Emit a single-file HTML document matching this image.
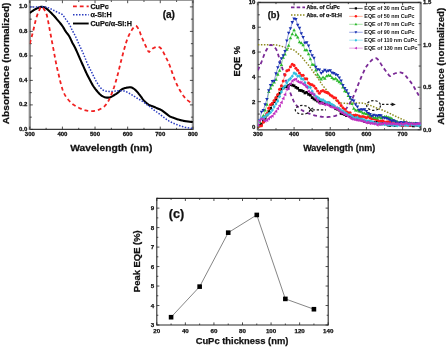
<!DOCTYPE html>
<html><head><meta charset="utf-8"><style>
html,body{margin:0;padding:0;background:#fff;width:446px;height:347px;overflow:hidden}
svg{display:block;filter:blur(0.4px)}
text{font-family:"Liberation Sans",sans-serif}
text.k{stroke:#111;stroke-width:0.25px}
</style></head><body>
<svg width="446" height="347" viewBox="0 0 446 347" font-family="Liberation Sans, sans-serif">
<defs>
<clipPath id="clipA"><rect x="29.8" y="0.4" width="163.10" height="129.00"/></clipPath>
<clipPath id="clipB"><rect x="257.9" y="2.5" width="162.80" height="127.30"/></clipPath>
</defs>
<rect width="446" height="347" fill="#fff"/>
<line x1="29.8" y1="0.4" x2="192.9" y2="0.4" stroke="#999" stroke-width="1.3"/>
<line x1="29.8" y1="129.4" x2="192.9" y2="129.4" stroke="#3a3a3a" stroke-width="1.3"/>
<line x1="29.8" y1="-0.25" x2="29.8" y2="130.05" stroke="#8c8c8c" stroke-width="2.3"/>
<line x1="192.9" y1="-0.25" x2="192.9" y2="130.05" stroke="#8c8c8c" stroke-width="2.3"/>
<line x1="29.80" y1="129.4" x2="29.80" y2="126.60" stroke="#222" stroke-width="0.8"/>
<line x1="29.80" y1="0.4" x2="29.80" y2="3.20" stroke="#222" stroke-width="0.8"/>
<line x1="62.42" y1="129.4" x2="62.42" y2="126.60" stroke="#222" stroke-width="0.8"/>
<line x1="62.42" y1="0.4" x2="62.42" y2="3.20" stroke="#222" stroke-width="0.8"/>
<line x1="95.04" y1="129.4" x2="95.04" y2="126.60" stroke="#222" stroke-width="0.8"/>
<line x1="95.04" y1="0.4" x2="95.04" y2="3.20" stroke="#222" stroke-width="0.8"/>
<line x1="127.66" y1="129.4" x2="127.66" y2="126.60" stroke="#222" stroke-width="0.8"/>
<line x1="127.66" y1="0.4" x2="127.66" y2="3.20" stroke="#222" stroke-width="0.8"/>
<line x1="160.28" y1="129.4" x2="160.28" y2="126.60" stroke="#222" stroke-width="0.8"/>
<line x1="160.28" y1="0.4" x2="160.28" y2="3.20" stroke="#222" stroke-width="0.8"/>
<line x1="192.90" y1="129.4" x2="192.90" y2="126.60" stroke="#222" stroke-width="0.8"/>
<line x1="192.90" y1="0.4" x2="192.90" y2="3.20" stroke="#222" stroke-width="0.8"/>
<line x1="46.11" y1="129.4" x2="46.11" y2="127.80" stroke="#222" stroke-width="0.8"/>
<line x1="46.11" y1="0.4" x2="46.11" y2="2.00" stroke="#222" stroke-width="0.8"/>
<line x1="78.73" y1="129.4" x2="78.73" y2="127.80" stroke="#222" stroke-width="0.8"/>
<line x1="78.73" y1="0.4" x2="78.73" y2="2.00" stroke="#222" stroke-width="0.8"/>
<line x1="111.35" y1="129.4" x2="111.35" y2="127.80" stroke="#222" stroke-width="0.8"/>
<line x1="111.35" y1="0.4" x2="111.35" y2="2.00" stroke="#222" stroke-width="0.8"/>
<line x1="143.97" y1="129.4" x2="143.97" y2="127.80" stroke="#222" stroke-width="0.8"/>
<line x1="143.97" y1="0.4" x2="143.97" y2="2.00" stroke="#222" stroke-width="0.8"/>
<line x1="176.59" y1="129.4" x2="176.59" y2="127.80" stroke="#222" stroke-width="0.8"/>
<line x1="176.59" y1="0.4" x2="176.59" y2="2.00" stroke="#222" stroke-width="0.8"/>
<line x1="29.8" y1="129.40" x2="32.80" y2="129.40" stroke="#222" stroke-width="0.8"/>
<line x1="192.9" y1="129.40" x2="189.90" y2="129.40" stroke="#222" stroke-width="0.8"/>
<line x1="29.8" y1="104.90" x2="32.80" y2="104.90" stroke="#222" stroke-width="0.8"/>
<line x1="192.9" y1="104.90" x2="189.90" y2="104.90" stroke="#222" stroke-width="0.8"/>
<line x1="29.8" y1="80.40" x2="32.80" y2="80.40" stroke="#222" stroke-width="0.8"/>
<line x1="192.9" y1="80.40" x2="189.90" y2="80.40" stroke="#222" stroke-width="0.8"/>
<line x1="29.8" y1="55.90" x2="32.80" y2="55.90" stroke="#222" stroke-width="0.8"/>
<line x1="192.9" y1="55.90" x2="189.90" y2="55.90" stroke="#222" stroke-width="0.8"/>
<line x1="29.8" y1="31.40" x2="32.80" y2="31.40" stroke="#222" stroke-width="0.8"/>
<line x1="192.9" y1="31.40" x2="189.90" y2="31.40" stroke="#222" stroke-width="0.8"/>
<line x1="29.8" y1="6.90" x2="32.80" y2="6.90" stroke="#222" stroke-width="0.8"/>
<line x1="192.9" y1="6.90" x2="189.90" y2="6.90" stroke="#222" stroke-width="0.8"/>
<line x1="29.8" y1="117.15" x2="31.80" y2="117.15" stroke="#222" stroke-width="0.8"/>
<line x1="192.9" y1="117.15" x2="190.90" y2="117.15" stroke="#222" stroke-width="0.8"/>
<line x1="29.8" y1="92.65" x2="31.80" y2="92.65" stroke="#222" stroke-width="0.8"/>
<line x1="192.9" y1="92.65" x2="190.90" y2="92.65" stroke="#222" stroke-width="0.8"/>
<line x1="29.8" y1="68.15" x2="31.80" y2="68.15" stroke="#222" stroke-width="0.8"/>
<line x1="192.9" y1="68.15" x2="190.90" y2="68.15" stroke="#222" stroke-width="0.8"/>
<line x1="29.8" y1="43.65" x2="31.80" y2="43.65" stroke="#222" stroke-width="0.8"/>
<line x1="192.9" y1="43.65" x2="190.90" y2="43.65" stroke="#222" stroke-width="0.8"/>
<line x1="29.8" y1="19.15" x2="31.80" y2="19.15" stroke="#222" stroke-width="0.8"/>
<line x1="192.9" y1="19.15" x2="190.90" y2="19.15" stroke="#222" stroke-width="0.8"/>
<text x="0" y="0" font-size="5.56" font-weight="bold" text-anchor="middle" fill="#111" transform="translate(29.80 136.30) scale(1.080 1)" class="k">300</text>
<text x="0" y="0" font-size="5.56" font-weight="bold" text-anchor="middle" fill="#111" transform="translate(62.42 136.30) scale(1.080 1)" class="k">400</text>
<text x="0" y="0" font-size="5.56" font-weight="bold" text-anchor="middle" fill="#111" transform="translate(95.04 136.30) scale(1.080 1)" class="k">500</text>
<text x="0" y="0" font-size="5.56" font-weight="bold" text-anchor="middle" fill="#111" transform="translate(127.66 136.30) scale(1.080 1)" class="k">600</text>
<text x="0" y="0" font-size="5.56" font-weight="bold" text-anchor="middle" fill="#111" transform="translate(160.28 136.30) scale(1.080 1)" class="k">700</text>
<text x="0" y="0" font-size="5.56" font-weight="bold" text-anchor="middle" fill="#111" transform="translate(192.90 136.30) scale(1.080 1)" class="k">800</text>
<text x="0" y="0" font-size="5.56" font-weight="bold" text-anchor="end" fill="#111" transform="translate(27.30 131.00) scale(1.080 1)" class="k">0.0</text>
<text x="0" y="0" font-size="5.56" font-weight="bold" text-anchor="end" fill="#111" transform="translate(27.30 106.48) scale(1.080 1)" class="k">0.2</text>
<text x="0" y="0" font-size="5.56" font-weight="bold" text-anchor="end" fill="#111" transform="translate(27.30 81.96) scale(1.080 1)" class="k">0.4</text>
<text x="0" y="0" font-size="5.56" font-weight="bold" text-anchor="end" fill="#111" transform="translate(27.30 57.44) scale(1.080 1)" class="k">0.6</text>
<text x="0" y="0" font-size="5.56" font-weight="bold" text-anchor="end" fill="#111" transform="translate(27.30 32.92) scale(1.080 1)" class="k">0.8</text>
<text x="0" y="0" font-size="5.56" font-weight="bold" text-anchor="end" fill="#111" transform="translate(27.30 8.40) scale(1.080 1)" class="k">1.0</text>
<text x="0" y="0" font-size="9.41" font-weight="bold" text-anchor="middle" fill="#111" transform="translate(111.30 151.00) scale(1.090 1)" class="k">Wavelength (nm)</text>
<text x="0" y="0" font-size="9.67" font-weight="bold" text-anchor="middle" fill="#111" transform="translate(8.60 63.40) scale(1 1.050) rotate(-90)" class="k">Absorbance (normalized)</text>
<text x="168.80" y="17.90" font-size="10.1" font-weight="bold" text-anchor="middle" fill="#111" class="k">(a)</text>
<g clip-path="url(#clipA)">
<path d="M29.80,13.03 L30.45,12.53 L31.10,12.02 L31.76,11.51 L32.41,11.03 L33.06,10.58 L33.71,10.16 L34.37,9.77 L35.02,9.40 L35.67,9.06 L36.32,8.74 L36.98,8.42 L37.63,8.09 L38.28,7.77 L38.93,7.47 L39.59,7.21 L40.24,7.02 L40.89,6.90 L41.54,6.86 L42.20,6.88 L42.85,6.97 L43.50,7.12 L44.15,7.33 L44.81,7.60 L45.46,7.93 L46.11,8.36 L46.76,8.85 L47.41,9.40 L48.07,9.98 L48.72,10.59 L49.37,11.19 L50.02,11.79 L50.68,12.42 L51.33,13.07 L51.98,13.74 L52.63,14.43 L53.29,15.12 L53.94,15.83 L54.59,16.56 L55.24,17.30 L55.90,18.06 L56.55,18.82 L57.20,19.60 L57.85,20.38 L58.51,21.15 L59.16,21.91 L59.81,22.68 L60.46,23.47 L61.12,24.27 L61.77,25.12 L62.42,26.01 L63.07,27.00 L63.72,28.10 L64.38,29.24 L65.03,30.36 L65.68,31.40 L66.33,32.32 L66.99,33.16 L67.64,33.97 L68.29,34.82 L68.94,35.77 L69.60,36.88 L70.25,38.19 L70.90,39.62 L71.55,41.06 L72.21,42.43 L72.86,43.67 L73.51,44.86 L74.16,46.04 L74.82,47.26 L75.47,48.55 L76.12,49.94 L76.77,51.40 L77.43,52.90 L78.08,54.41 L78.73,55.90 L79.38,57.37 L80.03,58.85 L80.69,60.32 L81.34,61.80 L81.99,63.26 L82.64,64.71 L83.30,66.17 L83.95,67.63 L84.60,69.08 L85.25,70.52 L85.91,71.94 L86.56,73.34 L87.21,74.71 L87.86,76.03 L88.52,77.31 L89.17,78.56 L89.82,79.79 L90.47,81.01 L91.13,82.23 L91.78,83.43 L92.43,84.61 L93.08,85.72 L93.74,86.77 L94.39,87.73 L95.04,88.62 L95.69,89.46 L96.34,90.26 L97.00,91.04 L97.65,91.81 L98.30,92.57 L98.95,93.29 L99.61,93.97 L100.26,94.58 L100.91,95.11 L101.56,95.57 L102.22,95.98 L102.87,96.34 L103.52,96.65 L104.17,96.94 L104.83,97.18 L105.48,97.38 L106.13,97.53 L106.78,97.63 L107.44,97.67 L108.09,97.66 L108.74,97.59 L109.39,97.47 L110.05,97.29 L110.70,97.06 L111.35,96.77 L112.00,96.44 L112.65,96.07 L113.31,95.67 L113.96,95.26 L114.61,94.86 L115.26,94.45 L115.92,94.03 L116.57,93.59 L117.22,93.14 L117.87,92.65 L118.53,92.11 L119.18,91.51 L119.83,90.91 L120.48,90.32 L121.14,89.81 L121.79,89.39 L122.44,89.05 L123.09,88.77 L123.75,88.53 L124.40,88.32 L125.05,88.12 L125.70,87.93 L126.36,87.76 L127.01,87.62 L127.66,87.51 L128.31,87.42 L128.96,87.35 L129.62,87.31 L130.27,87.31 L130.92,87.37 L131.57,87.50 L132.23,87.75 L132.88,88.08 L133.53,88.50 L134.18,88.97 L134.84,89.51 L135.49,90.10 L136.14,90.74 L136.79,91.43 L137.45,92.17 L138.10,92.95 L138.75,93.78 L139.40,94.62 L140.06,95.48 L140.71,96.33 L141.36,97.20 L142.01,98.11 L142.67,99.02 L143.32,99.87 L143.97,100.61 L144.62,101.28 L145.27,101.91 L145.93,102.51 L146.58,103.09 L147.23,103.62 L147.88,104.11 L148.54,104.57 L149.19,104.97 L149.84,105.31 L150.49,105.59 L151.15,105.83 L151.80,106.05 L152.45,106.26 L153.10,106.48 L153.76,106.74 L154.41,107.02 L155.06,107.30 L155.71,107.59 L156.37,107.89 L157.02,108.18 L157.67,108.47 L158.32,108.75 L158.98,109.02 L159.63,109.30 L160.28,109.58 L160.93,109.89 L161.58,110.23 L162.24,110.61 L162.89,111.06 L163.54,111.57 L164.19,112.09 L164.85,112.61 L165.50,113.11 L166.15,113.63 L166.80,114.16 L167.46,114.68 L168.11,115.19 L168.76,115.67 L169.41,116.10 L170.07,116.47 L170.72,116.79 L171.37,117.08 L172.02,117.34 L172.68,117.58 L173.33,117.81 L173.98,118.03 L174.63,118.26 L175.29,118.49 L175.94,118.73 L176.59,118.96 L177.24,119.18 L177.89,119.40 L178.55,119.60 L179.20,119.79 L179.85,119.97 L180.50,120.13 L181.16,120.29 L181.81,120.44 L182.46,120.58 L183.11,120.72 L183.77,120.85 L184.42,120.98 L185.07,121.10 L185.72,121.21 L186.38,121.31 L187.03,121.41 L187.68,121.50 L188.33,121.58 L188.99,121.65 L189.64,121.72 L190.29,121.79 L190.94,121.85 L191.60,121.91 L192.25,121.98 L192.90,122.05" fill="none" stroke="#000" stroke-width="2.1"/>
<path d="M29.80,6.90 L30.45,6.90 L31.10,6.90 L31.76,6.90 L32.41,6.90 L33.06,6.90 L33.71,6.90 L34.37,6.90 L35.02,6.90 L35.67,6.90 L36.32,6.90 L36.98,6.90 L37.63,6.90 L38.28,6.90 L38.93,6.90 L39.59,6.90 L40.24,6.89 L40.89,6.87 L41.54,6.84 L42.20,6.82 L42.85,6.80 L43.50,6.80 L44.15,6.82 L44.81,6.86 L45.46,6.95 L46.11,7.07 L46.76,7.23 L47.41,7.41 L48.07,7.63 L48.72,7.87 L49.37,8.12 L50.02,8.41 L50.68,8.74 L51.33,9.08 L51.98,9.45 L52.63,9.81 L53.29,10.16 L53.94,10.49 L54.59,10.82 L55.24,11.14 L55.90,11.46 L56.55,11.78 L57.20,12.10 L57.85,12.41 L58.51,12.70 L59.16,12.94 L59.81,13.18 L60.46,13.43 L61.12,13.74 L61.77,14.12 L62.42,14.62 L63.07,15.30 L63.72,16.18 L64.38,17.17 L65.03,18.19 L65.68,19.15 L66.33,20.03 L66.99,20.89 L67.64,21.75 L68.29,22.65 L68.94,23.64 L69.60,24.75 L70.25,26.04 L70.90,27.43 L71.55,28.84 L72.21,30.17 L72.86,31.41 L73.51,32.60 L74.16,33.79 L74.82,35.00 L75.47,36.30 L76.12,37.70 L76.77,39.16 L77.43,40.67 L78.08,42.18 L78.73,43.65 L79.38,45.07 L80.03,46.47 L80.69,47.86 L81.34,49.28 L81.99,50.72 L82.64,52.17 L83.30,53.63 L83.95,55.13 L84.60,56.69 L85.25,58.33 L85.91,60.01 L86.56,61.67 L87.21,63.25 L87.86,64.69 L88.52,66.04 L89.17,67.32 L89.82,68.57 L90.47,69.80 L91.13,71.06 L91.78,72.36 L92.43,73.70 L93.08,75.07 L93.74,76.43 L94.39,77.77 L95.04,79.07 L95.69,80.31 L96.34,81.46 L97.00,82.56 L97.65,83.62 L98.30,84.63 L98.95,85.59 L99.61,86.49 L100.26,87.34 L100.91,88.13 L101.56,88.80 L102.22,89.36 L102.87,89.83 L103.52,90.25 L104.17,90.62 L104.83,90.87 L105.48,91.03 L106.13,91.14 L106.78,91.22 L107.44,91.29 L108.09,91.35 L108.74,91.39 L109.39,91.42 L110.05,91.44 L110.70,91.44 L111.35,91.43 L112.00,91.39 L112.65,91.34 L113.31,91.27 L113.96,91.20 L114.61,91.12 L115.26,91.03 L115.92,90.96 L116.57,90.89 L117.22,90.84 L117.87,90.81 L118.53,90.79 L119.18,90.77 L119.83,90.74 L120.48,90.73 L121.14,90.72 L121.79,90.74 L122.44,90.77 L123.09,90.83 L123.75,90.93 L124.40,91.06 L125.05,91.24 L125.70,91.48 L126.36,91.77 L127.01,92.09 L127.66,92.44 L128.31,92.80 L128.96,93.16 L129.62,93.51 L130.27,93.86 L130.92,94.25 L131.57,94.65 L132.23,95.06 L132.88,95.47 L133.53,95.88 L134.18,96.30 L134.84,96.73 L135.49,97.16 L136.14,97.59 L136.79,98.00 L137.45,98.41 L138.10,98.79 L138.75,99.16 L139.40,99.52 L140.06,99.88 L140.71,100.24 L141.36,100.62 L142.01,101.02 L142.67,101.44 L143.32,101.88 L143.97,102.35 L144.62,102.82 L145.27,103.30 L145.93,103.79 L146.58,104.29 L147.23,104.78 L147.88,105.27 L148.54,105.77 L149.19,106.27 L149.84,106.77 L150.49,107.28 L151.15,107.79 L151.80,108.29 L152.45,108.80 L153.10,109.30 L153.76,109.80 L154.41,110.29 L155.06,110.79 L155.71,111.28 L156.37,111.77 L157.02,112.26 L157.67,112.75 L158.32,113.23 L158.98,113.72 L159.63,114.21 L160.28,114.70 L160.93,115.19 L161.58,115.69 L162.24,116.19 L162.89,116.69 L163.54,117.18 L164.19,117.66 L164.85,118.14 L165.50,118.61 L166.15,119.08 L166.80,119.55 L167.46,120.01 L168.11,120.45 L168.76,120.87 L169.41,121.26 L170.07,121.61 L170.72,121.95 L171.37,122.27 L172.02,122.58 L172.68,122.88 L173.33,123.17 L173.98,123.45 L174.63,123.72 L175.29,123.99 L175.94,124.25 L176.59,124.50 L177.24,124.75 L177.89,125.00 L178.55,125.24 L179.20,125.48 L179.85,125.71 L180.50,125.94 L181.16,126.16 L181.81,126.37 L182.46,126.57 L183.11,126.76 L183.77,126.95 L184.42,127.11 L185.07,127.27 L185.72,127.41 L186.38,127.53 L187.03,127.64 L187.68,127.74 L188.33,127.84 L188.99,127.92 L189.64,128.00 L190.29,128.08 L190.94,128.16 L191.60,128.24 L192.25,128.33 L192.90,128.42" fill="none" stroke="#2a3cc0" stroke-width="1.5" stroke-dasharray="1.5 1.5"/>
<path d="M29.80,43.65 L30.45,41.22 L31.10,38.81 L31.76,36.39 L32.41,33.93 L33.06,31.40 L33.71,28.70 L34.37,25.86 L35.02,23.02 L35.67,20.33 L36.32,17.92 L36.98,15.84 L37.63,13.98 L38.28,12.30 L38.93,10.77 L39.59,9.35 L40.24,8.08 L40.89,7.19 L41.54,6.90 L42.20,7.16 L42.85,7.74 L43.50,8.53 L44.15,9.47 L44.81,10.45 L45.46,11.45 L46.11,12.81 L46.76,14.86 L47.41,17.66 L48.07,20.89 L48.72,24.37 L49.37,27.93 L50.02,31.40 L50.68,34.77 L51.33,38.17 L51.98,41.58 L52.63,45.00 L53.29,48.43 L53.94,51.88 L54.59,55.43 L55.24,58.98 L55.90,62.38 L56.55,65.52 L57.20,68.46 L57.85,71.26 L58.51,74.00 L59.16,76.73 L59.81,79.48 L60.46,82.19 L61.12,84.74 L61.77,87.04 L62.42,89.18 L63.07,91.08 L63.72,92.65 L64.38,93.94 L65.03,95.11 L65.68,96.16 L66.33,97.13 L66.99,98.04 L67.64,98.90 L68.29,99.72 L68.94,100.49 L69.60,101.21 L70.25,101.88 L70.90,102.51 L71.55,103.11 L72.21,103.68 L72.86,104.20 L73.51,104.68 L74.16,105.12 L74.82,105.54 L75.47,105.93 L76.12,106.31 L76.77,106.68 L77.43,107.04 L78.08,107.39 L78.73,107.73 L79.38,108.05 L80.03,108.36 L80.69,108.65 L81.34,108.93 L81.99,109.19 L82.64,109.43 L83.30,109.67 L83.95,109.89 L84.60,110.09 L85.25,110.28 L85.91,110.44 L86.56,110.59 L87.21,110.72 L87.86,110.83 L88.52,110.93 L89.17,111.01 L89.82,111.08 L90.47,111.12 L91.13,111.15 L91.78,111.15 L92.43,111.14 L93.08,111.09 L93.74,111.01 L94.39,110.91 L95.04,110.79 L95.69,110.65 L96.34,110.49 L97.00,110.33 L97.65,110.13 L98.30,109.90 L98.95,109.64 L99.61,109.35 L100.26,109.03 L100.91,108.71 L101.56,108.38 L102.22,108.01 L102.87,107.60 L103.52,107.13 L104.17,106.57 L104.83,105.94 L105.48,105.23 L106.13,104.43 L106.78,103.54 L107.44,102.56 L108.09,101.50 L108.74,100.34 L109.39,99.10 L110.05,97.76 L110.70,96.32 L111.35,94.67 L112.00,92.91 L112.65,91.09 L113.31,89.32 L113.96,87.53 L114.61,85.55 L115.26,83.36 L115.92,81.13 L116.57,78.83 L117.22,76.47 L117.87,74.03 L118.53,71.46 L119.18,68.75 L119.83,66.01 L120.48,63.32 L121.14,60.75 L121.79,58.23 L122.44,55.75 L123.09,53.30 L123.75,50.90 L124.40,48.55 L125.05,46.23 L125.70,43.96 L126.36,41.84 L127.01,39.98 L127.66,38.29 L128.31,36.69 L128.96,35.18 L129.62,33.78 L130.27,32.52 L130.92,31.40 L131.57,30.37 L132.23,29.38 L132.88,28.46 L133.53,27.63 L134.18,26.94 L134.84,26.42 L135.49,26.09 L136.14,26.03 L136.79,26.46 L137.45,27.28 L138.10,28.37 L138.75,29.57 L139.40,30.85 L140.06,32.54 L140.71,34.42 L141.36,36.18 L142.01,37.74 L142.67,39.25 L143.32,40.73 L143.97,42.20 L144.62,43.65 L145.27,45.09 L145.93,46.49 L146.58,47.81 L147.23,49.21 L147.88,50.60 L148.54,51.67 L149.19,51.99 L149.84,51.25 L150.49,50.39 L151.15,49.84 L151.80,49.29 L152.45,48.77 L153.10,48.31 L153.76,47.94 L154.41,47.62 L155.06,47.31 L155.71,47.04 L156.37,46.83 L157.02,46.70 L157.67,46.68 L158.32,46.78 L158.98,46.99 L159.63,47.33 L160.28,47.80 L160.93,48.41 L161.58,49.16 L162.24,50.12 L162.89,51.27 L163.54,52.55 L164.19,53.90 L164.85,55.24 L165.50,56.54 L166.15,57.81 L166.80,59.09 L167.46,60.40 L168.11,61.77 L168.76,63.22 L169.41,64.79 L170.07,66.53 L170.72,68.38 L171.37,70.28 L172.02,72.15 L172.68,73.95 L173.33,75.76 L173.98,77.58 L174.63,79.33 L175.29,80.98 L175.94,82.49 L176.59,83.91 L177.24,85.28 L177.89,86.59 L178.55,87.85 L179.20,89.05 L179.85,90.20 L180.50,91.32 L181.16,92.40 L181.81,93.45 L182.46,94.45 L183.11,95.41 L183.77,96.31 L184.42,97.15 L185.07,97.93 L185.72,98.62 L186.38,99.25 L187.03,99.83 L187.68,100.36 L188.33,100.86 L188.99,101.35 L189.64,101.84 L190.29,102.28 L190.94,102.66 L191.60,103.00 L192.25,103.33 L192.90,103.68" fill="none" stroke="#f02020" stroke-width="1.8" stroke-dasharray="3.8 3.0"/>
</g>
<line x1="73" y1="6.3" x2="88.7" y2="6.3" stroke="#f02020" stroke-width="1.8" stroke-dasharray="3.8 3.0"/>
<line x1="73" y1="14.8" x2="88.7" y2="14.8" stroke="#2a3cc0" stroke-width="1.5" stroke-dasharray="1.5 1.5"/>
<line x1="73" y1="23.5" x2="88.7" y2="23.5" stroke="#000" stroke-width="1.9"/>
<text x="90.40" y="8.50" font-size="7.2" font-weight="bold" text-anchor="start" fill="#111" class="k">CuPc</text>
<text x="90.40" y="17.20" font-size="7.2" font-weight="bold" text-anchor="start" fill="#111" class="k">&#945;-Si:H</text>
<text x="90.40" y="26.00" font-size="7.2" font-weight="bold" text-anchor="start" fill="#111" class="k">CuPc/&#945;-Si:H</text>
<line x1="257.9" y1="2.5" x2="420.7" y2="2.5" stroke="#3a3a3a" stroke-width="1.3"/>
<line x1="257.9" y1="129.8" x2="420.7" y2="129.8" stroke="#3a3a3a" stroke-width="1.3"/>
<line x1="257.9" y1="1.85" x2="257.9" y2="130.45000000000002" stroke="#8c8c8c" stroke-width="2.3"/>
<line x1="420.7" y1="1.85" x2="420.7" y2="130.45000000000002" stroke="#8c8c8c" stroke-width="2.3"/>
<line x1="257.90" y1="129.8" x2="257.90" y2="127.00" stroke="#222" stroke-width="0.8"/>
<line x1="257.90" y1="2.5" x2="257.90" y2="5.30" stroke="#222" stroke-width="0.8"/>
<line x1="294.08" y1="129.8" x2="294.08" y2="127.00" stroke="#222" stroke-width="0.8"/>
<line x1="294.08" y1="2.5" x2="294.08" y2="5.30" stroke="#222" stroke-width="0.8"/>
<line x1="330.26" y1="129.8" x2="330.26" y2="127.00" stroke="#222" stroke-width="0.8"/>
<line x1="330.26" y1="2.5" x2="330.26" y2="5.30" stroke="#222" stroke-width="0.8"/>
<line x1="366.43" y1="129.8" x2="366.43" y2="127.00" stroke="#222" stroke-width="0.8"/>
<line x1="366.43" y1="2.5" x2="366.43" y2="5.30" stroke="#222" stroke-width="0.8"/>
<line x1="402.61" y1="129.8" x2="402.61" y2="127.00" stroke="#222" stroke-width="0.8"/>
<line x1="402.61" y1="2.5" x2="402.61" y2="5.30" stroke="#222" stroke-width="0.8"/>
<line x1="275.99" y1="129.8" x2="275.99" y2="128.20" stroke="#222" stroke-width="0.8"/>
<line x1="275.99" y1="2.5" x2="275.99" y2="4.10" stroke="#222" stroke-width="0.8"/>
<line x1="312.17" y1="129.8" x2="312.17" y2="128.20" stroke="#222" stroke-width="0.8"/>
<line x1="312.17" y1="2.5" x2="312.17" y2="4.10" stroke="#222" stroke-width="0.8"/>
<line x1="348.34" y1="129.8" x2="348.34" y2="128.20" stroke="#222" stroke-width="0.8"/>
<line x1="348.34" y1="2.5" x2="348.34" y2="4.10" stroke="#222" stroke-width="0.8"/>
<line x1="384.52" y1="129.8" x2="384.52" y2="128.20" stroke="#222" stroke-width="0.8"/>
<line x1="384.52" y1="2.5" x2="384.52" y2="4.10" stroke="#222" stroke-width="0.8"/>
<line x1="420.70" y1="129.8" x2="420.70" y2="128.20" stroke="#222" stroke-width="0.8"/>
<line x1="420.70" y1="2.5" x2="420.70" y2="4.10" stroke="#222" stroke-width="0.8"/>
<line x1="257.9" y1="126.50" x2="260.90" y2="126.50" stroke="#222" stroke-width="0.8"/>
<line x1="257.9" y1="101.68" x2="260.90" y2="101.68" stroke="#222" stroke-width="0.8"/>
<line x1="257.9" y1="76.86" x2="260.90" y2="76.86" stroke="#222" stroke-width="0.8"/>
<line x1="257.9" y1="52.04" x2="260.90" y2="52.04" stroke="#222" stroke-width="0.8"/>
<line x1="257.9" y1="27.22" x2="260.90" y2="27.22" stroke="#222" stroke-width="0.8"/>
<line x1="257.9" y1="2.40" x2="260.90" y2="2.40" stroke="#222" stroke-width="0.8"/>
<line x1="257.9" y1="114.09" x2="259.90" y2="114.09" stroke="#222" stroke-width="0.8"/>
<line x1="257.9" y1="89.27" x2="259.90" y2="89.27" stroke="#222" stroke-width="0.8"/>
<line x1="257.9" y1="64.45" x2="259.90" y2="64.45" stroke="#222" stroke-width="0.8"/>
<line x1="257.9" y1="39.63" x2="259.90" y2="39.63" stroke="#222" stroke-width="0.8"/>
<line x1="257.9" y1="14.81" x2="259.90" y2="14.81" stroke="#222" stroke-width="0.8"/>
<line x1="420.7" y1="129.70" x2="417.70" y2="129.70" stroke="#222" stroke-width="0.8"/>
<line x1="420.7" y1="87.26" x2="417.70" y2="87.26" stroke="#222" stroke-width="0.8"/>
<line x1="420.7" y1="44.83" x2="417.70" y2="44.83" stroke="#222" stroke-width="0.8"/>
<line x1="420.7" y1="2.39" x2="417.70" y2="2.39" stroke="#222" stroke-width="0.8"/>
<line x1="420.7" y1="108.48" x2="418.70" y2="108.48" stroke="#222" stroke-width="0.8"/>
<line x1="420.7" y1="66.05" x2="418.70" y2="66.05" stroke="#222" stroke-width="0.8"/>
<line x1="420.7" y1="23.61" x2="418.70" y2="23.61" stroke="#222" stroke-width="0.8"/>
<text x="0" y="0" font-size="5.56" font-weight="bold" text-anchor="middle" fill="#111" transform="translate(257.90 136.30) scale(1.080 1)" class="k">300</text>
<text x="0" y="0" font-size="5.56" font-weight="bold" text-anchor="middle" fill="#111" transform="translate(294.08 136.30) scale(1.080 1)" class="k">400</text>
<text x="0" y="0" font-size="5.56" font-weight="bold" text-anchor="middle" fill="#111" transform="translate(330.26 136.30) scale(1.080 1)" class="k">500</text>
<text x="0" y="0" font-size="5.56" font-weight="bold" text-anchor="middle" fill="#111" transform="translate(366.43 136.30) scale(1.080 1)" class="k">600</text>
<text x="0" y="0" font-size="5.56" font-weight="bold" text-anchor="middle" fill="#111" transform="translate(402.61 136.30) scale(1.080 1)" class="k">700</text>
<text x="0" y="0" font-size="5.56" font-weight="bold" text-anchor="end" fill="#111" transform="translate(255.40 128.50) scale(1.080 1)" class="k">0</text>
<text x="0" y="0" font-size="5.56" font-weight="bold" text-anchor="end" fill="#111" transform="translate(255.40 103.68) scale(1.080 1)" class="k">2</text>
<text x="0" y="0" font-size="5.56" font-weight="bold" text-anchor="end" fill="#111" transform="translate(255.40 78.86) scale(1.080 1)" class="k">4</text>
<text x="0" y="0" font-size="5.56" font-weight="bold" text-anchor="end" fill="#111" transform="translate(255.40 54.04) scale(1.080 1)" class="k">6</text>
<text x="0" y="0" font-size="5.56" font-weight="bold" text-anchor="end" fill="#111" transform="translate(255.40 29.22) scale(1.080 1)" class="k">8</text>
<text x="0" y="0" font-size="5.56" font-weight="bold" text-anchor="end" fill="#111" transform="translate(255.40 4.40) scale(1.080 1)" class="k">10</text>
<text x="0" y="0" font-size="5.56" font-weight="bold" text-anchor="start" fill="#111" transform="translate(423.00 131.70) scale(1.080 1)" class="k">0.0</text>
<text x="0" y="0" font-size="5.56" font-weight="bold" text-anchor="start" fill="#111" transform="translate(423.00 89.26) scale(1.080 1)" class="k">0.5</text>
<text x="0" y="0" font-size="5.56" font-weight="bold" text-anchor="start" fill="#111" transform="translate(423.00 46.83) scale(1.080 1)" class="k">1.0</text>
<text x="0" y="0" font-size="5.56" font-weight="bold" text-anchor="start" fill="#111" transform="translate(423.00 4.39) scale(1.080 1)" class="k">1.5</text>
<text x="0" y="0" font-size="8.74" font-weight="bold" text-anchor="middle" fill="#111" transform="translate(339.20 150.90) scale(1.030 1)" class="k">Wavelength (nm)</text>
<text x="240.10" y="61.20" font-size="9.3" font-weight="bold" text-anchor="middle" fill="#111" transform="rotate(-90 240.10 61.20)" class="k">EQE %</text>
<text x="0" y="0" font-size="9.29" font-weight="bold" text-anchor="middle" fill="#111" transform="translate(443.60 66.20) scale(1 1.050) rotate(-90)" class="k">Absorbance (normalized)</text>
<text x="273.60" y="17.60" font-size="9.2" font-weight="bold" text-anchor="middle" fill="#111" class="k">(b)</text>
<g clip-path="url(#clipB)">
<path d="M257.90,44.83 L258.62,44.83 L259.35,44.83 L260.07,44.83 L260.79,44.83 L261.52,44.83 L262.24,44.83 L262.96,44.83 L263.69,44.83 L264.41,44.83 L265.14,44.83 L265.86,44.83 L266.58,44.83 L267.31,44.83 L268.03,44.83 L268.75,44.83 L269.48,44.82 L270.20,44.81 L270.92,44.79 L271.65,44.77 L272.37,44.76 L273.09,44.76 L273.82,44.77 L274.54,44.80 L275.27,44.86 L275.99,44.95 L276.71,45.06 L277.44,45.19 L278.16,45.34 L278.88,45.50 L279.61,45.68 L280.33,45.88 L281.05,46.10 L281.78,46.34 L282.50,46.59 L283.22,46.85 L283.95,47.09 L284.67,47.32 L285.40,47.55 L286.12,47.77 L286.84,47.99 L287.57,48.21 L288.29,48.43 L289.01,48.65 L289.74,48.85 L290.46,49.02 L291.18,49.18 L291.91,49.36 L292.63,49.57 L293.35,49.83 L294.08,50.18 L294.80,50.65 L295.52,51.26 L296.25,51.94 L296.97,52.65 L297.70,53.32 L298.42,53.93 L299.14,54.52 L299.87,55.12 L300.59,55.74 L301.31,56.43 L302.04,57.20 L302.76,58.09 L303.48,59.05 L304.21,60.03 L304.93,60.96 L305.65,61.81 L306.38,62.64 L307.10,63.46 L307.83,64.30 L308.55,65.20 L309.27,66.17 L310.00,67.18 L310.72,68.23 L311.44,69.27 L312.17,70.29 L312.89,71.28 L313.61,72.24 L314.34,73.21 L315.06,74.20 L315.78,75.19 L316.51,76.19 L317.23,77.21 L317.96,78.25 L318.68,79.32 L319.40,80.46 L320.13,81.63 L320.85,82.78 L321.57,83.87 L322.30,84.87 L323.02,85.80 L323.74,86.69 L324.47,87.55 L325.19,88.41 L325.91,89.28 L326.64,90.18 L327.36,91.11 L328.08,92.06 L328.81,93.00 L329.53,93.93 L330.26,94.83 L330.98,95.69 L331.70,96.48 L332.43,97.25 L333.15,97.98 L333.87,98.68 L334.60,99.34 L335.32,99.97 L336.04,100.56 L336.77,101.11 L337.49,101.57 L338.21,101.96 L338.94,102.29 L339.66,102.58 L340.39,102.83 L341.11,103.01 L341.83,103.12 L342.56,103.19 L343.28,103.25 L344.00,103.30 L344.73,103.34 L345.45,103.37 L346.17,103.39 L346.90,103.40 L347.62,103.40 L348.34,103.39 L349.07,103.37 L349.79,103.33 L350.52,103.29 L351.24,103.23 L351.96,103.18 L352.69,103.12 L353.41,103.07 L354.13,103.02 L354.86,102.99 L355.58,102.97 L356.30,102.95 L357.03,102.93 L357.75,102.92 L358.47,102.91 L359.20,102.91 L359.92,102.91 L360.64,102.94 L361.37,102.98 L362.09,103.05 L362.82,103.14 L363.54,103.26 L364.26,103.43 L364.99,103.63 L365.71,103.85 L366.43,104.09 L367.16,104.34 L367.88,104.59 L368.60,104.83 L369.33,105.08 L370.05,105.34 L370.77,105.62 L371.50,105.91 L372.22,106.19 L372.95,106.48 L373.67,106.77 L374.39,107.07 L375.12,107.36 L375.84,107.66 L376.56,107.95 L377.29,108.23 L378.01,108.50 L378.73,108.75 L379.46,109.00 L380.18,109.25 L380.90,109.50 L381.63,109.76 L382.35,110.04 L383.08,110.33 L383.80,110.64 L384.52,110.96 L385.25,111.28 L385.97,111.62 L386.69,111.96 L387.42,112.30 L388.14,112.64 L388.86,112.98 L389.59,113.33 L390.31,113.68 L391.03,114.02 L391.76,114.38 L392.48,114.73 L393.20,115.08 L393.93,115.43 L394.65,115.78 L395.38,116.12 L396.10,116.46 L396.82,116.81 L397.55,117.15 L398.27,117.48 L398.99,117.82 L399.72,118.16 L400.44,118.50 L401.16,118.84 L401.89,119.18 L402.61,119.52 L403.33,119.86 L404.06,120.20 L404.78,120.55 L405.51,120.89 L406.23,121.23 L406.95,121.57 L407.68,121.90 L408.40,122.22 L409.12,122.55 L409.85,122.87 L410.57,123.19 L411.29,123.50 L412.02,123.79 L412.74,124.06 L413.46,124.30 L414.19,124.54 L414.91,124.76 L415.64,124.98 L416.36,125.18 L417.08,125.38 L417.81,125.58 L418.53,125.77 L419.25,125.95 L419.98,126.13 L420.70,126.31" fill="none" stroke="#8c8a1e" stroke-width="1.5" stroke-dasharray="1.5 1.5"/>
<path d="M257.90,70.29 L258.62,68.61 L259.35,66.94 L260.07,65.26 L260.79,63.56 L261.52,61.80 L262.24,59.94 L262.96,57.97 L263.69,56.00 L264.41,54.13 L265.14,52.47 L265.86,51.03 L266.58,49.74 L267.31,48.57 L268.03,47.51 L268.75,46.53 L269.48,45.65 L270.20,45.03 L270.92,44.83 L271.65,45.01 L272.37,45.41 L273.09,45.96 L273.82,46.61 L274.54,47.29 L275.27,47.98 L275.99,48.92 L276.71,50.35 L277.44,52.28 L278.16,54.52 L278.88,56.93 L279.61,59.40 L280.33,61.80 L281.05,64.14 L281.78,66.49 L282.50,68.85 L283.22,71.23 L283.95,73.60 L284.67,75.99 L285.40,78.45 L286.12,80.91 L286.84,83.27 L287.57,85.44 L288.29,87.48 L289.01,89.42 L289.74,91.32 L290.46,93.21 L291.18,95.12 L291.91,96.99 L292.63,98.76 L293.35,100.35 L294.08,101.83 L294.80,103.15 L295.52,104.24 L296.25,105.14 L296.97,105.94 L297.70,106.67 L298.42,107.34 L299.14,107.97 L299.87,108.57 L300.59,109.14 L301.31,109.67 L302.04,110.17 L302.76,110.63 L303.48,111.07 L304.21,111.49 L304.93,111.88 L305.65,112.24 L306.38,112.57 L307.10,112.88 L307.83,113.17 L308.55,113.44 L309.27,113.70 L310.00,113.96 L310.72,114.21 L311.44,114.45 L312.17,114.69 L312.89,114.91 L313.61,115.12 L314.34,115.32 L315.06,115.52 L315.78,115.70 L316.51,115.87 L317.23,116.03 L317.96,116.18 L318.68,116.32 L319.40,116.45 L320.13,116.57 L320.85,116.67 L321.57,116.76 L322.30,116.84 L323.02,116.90 L323.74,116.96 L324.47,117.00 L325.19,117.04 L325.91,117.05 L326.64,117.06 L327.36,117.05 L328.08,117.01 L328.81,116.96 L329.53,116.89 L330.26,116.80 L330.98,116.71 L331.70,116.60 L332.43,116.49 L333.15,116.35 L333.87,116.19 L334.60,116.01 L335.32,115.81 L336.04,115.59 L336.77,115.36 L337.49,115.13 L338.21,114.88 L338.94,114.60 L339.66,114.27 L340.39,113.88 L341.11,113.45 L341.83,112.95 L342.56,112.40 L343.28,111.78 L344.00,111.11 L344.73,110.37 L345.45,109.57 L346.17,108.71 L346.90,107.78 L347.62,106.78 L348.34,105.64 L349.07,104.42 L349.79,103.16 L350.52,101.93 L351.24,100.69 L351.96,99.32 L352.69,97.81 L353.41,96.26 L354.13,94.66 L354.86,93.03 L355.58,91.34 L356.30,89.56 L357.03,87.68 L357.75,85.78 L358.47,83.92 L359.20,82.14 L359.92,80.39 L360.64,78.67 L361.37,76.98 L362.09,75.31 L362.82,73.69 L363.54,72.08 L364.26,70.51 L364.99,69.04 L365.71,67.74 L366.43,66.58 L367.16,65.47 L367.88,64.42 L368.60,63.45 L369.33,62.58 L370.05,61.80 L370.77,61.09 L371.50,60.40 L372.22,59.76 L372.95,59.19 L373.67,58.72 L374.39,58.35 L375.12,58.12 L375.84,58.09 L376.56,58.38 L377.29,58.95 L378.01,59.70 L378.73,60.54 L379.46,61.42 L380.18,62.59 L380.90,63.90 L381.63,65.11 L382.35,66.19 L383.08,67.24 L383.80,68.27 L384.52,69.28 L385.25,70.29 L385.97,71.29 L386.69,72.26 L387.42,73.18 L388.14,74.14 L388.86,75.11 L389.59,75.85 L390.31,76.07 L391.03,75.55 L391.76,74.96 L392.48,74.58 L393.20,74.20 L393.93,73.84 L394.65,73.52 L395.38,73.26 L396.10,73.04 L396.82,72.83 L397.55,72.64 L398.27,72.49 L398.99,72.41 L399.72,72.39 L400.44,72.46 L401.16,72.61 L401.89,72.84 L402.61,73.16 L403.33,73.59 L404.06,74.11 L404.78,74.77 L405.51,75.57 L406.23,76.46 L406.95,77.39 L407.68,78.32 L408.40,79.22 L409.12,80.10 L409.85,80.99 L410.57,81.90 L411.29,82.84 L412.02,83.85 L412.74,84.94 L413.46,86.14 L414.19,87.43 L414.91,88.74 L415.64,90.03 L416.36,91.28 L417.08,92.54 L417.81,93.80 L418.53,95.01 L419.25,96.15 L419.98,97.20 L420.70,98.19" fill="none" stroke="#7a2a96" stroke-width="1.8" stroke-dasharray="3.8 3.0"/>
<path d="M257.90,126.50 L259.71,125.32 L261.52,124.11 L263.33,121.31 L265.14,118.26 L266.94,114.98 L268.75,111.53 L270.56,108.34 L272.37,104.12 L274.18,101.57 L275.99,99.25 L277.80,95.87 L279.61,93.37 L281.42,89.12 L283.22,88.01 L285.03,86.74 L286.84,86.85 L288.65,85.58 L290.46,84.55 L292.27,85.13 L294.08,85.81 L295.89,87.34 L297.70,88.28 L299.50,90.33 L301.31,90.54 L303.12,91.30 L304.93,92.97 L306.74,92.38 L308.55,94.38 L310.36,95.16 L312.17,97.62 L313.98,98.95 L315.78,99.93 L317.59,101.10 L319.40,101.74 L321.21,102.57 L323.02,103.26 L324.83,103.69 L326.64,103.59 L328.45,102.94 L330.26,104.89 L332.06,105.29 L333.87,106.38 L335.68,108.71 L337.49,109.20 L339.30,110.06 L341.11,113.31 L342.92,113.77 L344.73,114.64 L346.54,115.66 L348.34,115.59 L350.15,116.48 L351.96,117.76 L353.77,117.29 L355.58,117.95 L357.39,118.39 L359.20,118.73 L361.01,119.77 L362.82,120.43 L364.62,121.55 L366.43,121.20 L368.24,122.10 L370.05,121.98 L371.86,122.36 L373.67,122.48 L375.48,122.58 L377.29,122.14 L379.10,123.81 L380.90,123.88 L382.71,123.50 L384.52,123.30 L386.33,123.91 L388.14,125.10 L389.95,125.50 L391.76,124.50 L393.57,125.04 L395.38,125.28 L397.18,124.55 L398.99,124.58 L400.80,125.00 L402.61,125.02 L404.42,124.99 L406.23,124.58 L408.04,124.99 L409.85,125.06 L411.66,125.09 L413.46,125.93 L415.27,124.87 L417.08,125.04 L418.89,125.25 L420.70,126.26" fill="none" stroke="#444444" stroke-width="0.7"/>
<rect x="256.54" y="125.14" width="2.72" height="2.72" fill="#000000"/><rect x="258.35" y="123.96" width="2.72" height="2.72" fill="#000000"/><rect x="260.16" y="122.75" width="2.72" height="2.72" fill="#000000"/><rect x="261.97" y="119.95" width="2.72" height="2.72" fill="#000000"/><rect x="263.78" y="116.90" width="2.72" height="2.72" fill="#000000"/><rect x="265.58" y="113.62" width="2.72" height="2.72" fill="#000000"/><rect x="267.39" y="110.17" width="2.72" height="2.72" fill="#000000"/><rect x="269.20" y="106.98" width="2.72" height="2.72" fill="#000000"/><rect x="271.01" y="102.76" width="2.72" height="2.72" fill="#000000"/><rect x="272.82" y="100.21" width="2.72" height="2.72" fill="#000000"/><rect x="274.63" y="97.89" width="2.72" height="2.72" fill="#000000"/><rect x="276.44" y="94.51" width="2.72" height="2.72" fill="#000000"/><rect x="278.25" y="92.01" width="2.72" height="2.72" fill="#000000"/><rect x="280.06" y="87.76" width="2.72" height="2.72" fill="#000000"/><rect x="281.86" y="86.65" width="2.72" height="2.72" fill="#000000"/><rect x="283.67" y="85.38" width="2.72" height="2.72" fill="#000000"/><rect x="285.48" y="85.49" width="2.72" height="2.72" fill="#000000"/><rect x="287.29" y="84.22" width="2.72" height="2.72" fill="#000000"/><rect x="289.10" y="83.19" width="2.72" height="2.72" fill="#000000"/><rect x="290.91" y="83.77" width="2.72" height="2.72" fill="#000000"/><rect x="292.72" y="84.45" width="2.72" height="2.72" fill="#000000"/><rect x="294.53" y="85.98" width="2.72" height="2.72" fill="#000000"/><rect x="296.34" y="86.92" width="2.72" height="2.72" fill="#000000"/><rect x="298.14" y="88.97" width="2.72" height="2.72" fill="#000000"/><rect x="299.95" y="89.18" width="2.72" height="2.72" fill="#000000"/><rect x="301.76" y="89.94" width="2.72" height="2.72" fill="#000000"/><rect x="303.57" y="91.61" width="2.72" height="2.72" fill="#000000"/><rect x="305.38" y="91.02" width="2.72" height="2.72" fill="#000000"/><rect x="307.19" y="93.02" width="2.72" height="2.72" fill="#000000"/><rect x="309.00" y="93.80" width="2.72" height="2.72" fill="#000000"/><rect x="310.81" y="96.26" width="2.72" height="2.72" fill="#000000"/><rect x="312.62" y="97.59" width="2.72" height="2.72" fill="#000000"/><rect x="314.42" y="98.57" width="2.72" height="2.72" fill="#000000"/><rect x="316.23" y="99.74" width="2.72" height="2.72" fill="#000000"/><rect x="318.04" y="100.38" width="2.72" height="2.72" fill="#000000"/><rect x="319.85" y="101.21" width="2.72" height="2.72" fill="#000000"/><rect x="321.66" y="101.90" width="2.72" height="2.72" fill="#000000"/><rect x="323.47" y="102.33" width="2.72" height="2.72" fill="#000000"/><rect x="325.28" y="102.23" width="2.72" height="2.72" fill="#000000"/><rect x="327.09" y="101.58" width="2.72" height="2.72" fill="#000000"/><rect x="328.90" y="103.53" width="2.72" height="2.72" fill="#000000"/><rect x="330.70" y="103.93" width="2.72" height="2.72" fill="#000000"/><rect x="332.51" y="105.02" width="2.72" height="2.72" fill="#000000"/><rect x="334.32" y="107.35" width="2.72" height="2.72" fill="#000000"/><rect x="336.13" y="107.84" width="2.72" height="2.72" fill="#000000"/><rect x="337.94" y="108.70" width="2.72" height="2.72" fill="#000000"/><rect x="339.75" y="111.95" width="2.72" height="2.72" fill="#000000"/><rect x="341.56" y="112.41" width="2.72" height="2.72" fill="#000000"/><rect x="343.37" y="113.28" width="2.72" height="2.72" fill="#000000"/><rect x="345.18" y="114.30" width="2.72" height="2.72" fill="#000000"/><rect x="346.98" y="114.23" width="2.72" height="2.72" fill="#000000"/><rect x="348.79" y="115.12" width="2.72" height="2.72" fill="#000000"/><rect x="350.60" y="116.40" width="2.72" height="2.72" fill="#000000"/><rect x="352.41" y="115.93" width="2.72" height="2.72" fill="#000000"/><rect x="354.22" y="116.59" width="2.72" height="2.72" fill="#000000"/><rect x="356.03" y="117.03" width="2.72" height="2.72" fill="#000000"/><rect x="357.84" y="117.37" width="2.72" height="2.72" fill="#000000"/><rect x="359.65" y="118.41" width="2.72" height="2.72" fill="#000000"/><rect x="361.46" y="119.07" width="2.72" height="2.72" fill="#000000"/><rect x="363.26" y="120.19" width="2.72" height="2.72" fill="#000000"/><rect x="365.07" y="119.84" width="2.72" height="2.72" fill="#000000"/><rect x="366.88" y="120.74" width="2.72" height="2.72" fill="#000000"/><rect x="368.69" y="120.62" width="2.72" height="2.72" fill="#000000"/><rect x="370.50" y="121.00" width="2.72" height="2.72" fill="#000000"/><rect x="372.31" y="121.12" width="2.72" height="2.72" fill="#000000"/><rect x="374.12" y="121.22" width="2.72" height="2.72" fill="#000000"/><rect x="375.93" y="120.78" width="2.72" height="2.72" fill="#000000"/><rect x="377.74" y="122.45" width="2.72" height="2.72" fill="#000000"/><rect x="379.54" y="122.52" width="2.72" height="2.72" fill="#000000"/><rect x="381.35" y="122.14" width="2.72" height="2.72" fill="#000000"/><rect x="383.16" y="121.94" width="2.72" height="2.72" fill="#000000"/><rect x="384.97" y="122.55" width="2.72" height="2.72" fill="#000000"/><rect x="386.78" y="123.74" width="2.72" height="2.72" fill="#000000"/><rect x="388.59" y="124.14" width="2.72" height="2.72" fill="#000000"/><rect x="390.40" y="123.14" width="2.72" height="2.72" fill="#000000"/><rect x="392.21" y="123.68" width="2.72" height="2.72" fill="#000000"/><rect x="394.02" y="123.92" width="2.72" height="2.72" fill="#000000"/><rect x="395.82" y="123.19" width="2.72" height="2.72" fill="#000000"/><rect x="397.63" y="123.22" width="2.72" height="2.72" fill="#000000"/><rect x="399.44" y="123.64" width="2.72" height="2.72" fill="#000000"/><rect x="401.25" y="123.66" width="2.72" height="2.72" fill="#000000"/><rect x="403.06" y="123.63" width="2.72" height="2.72" fill="#000000"/><rect x="404.87" y="123.22" width="2.72" height="2.72" fill="#000000"/><rect x="406.68" y="123.63" width="2.72" height="2.72" fill="#000000"/><rect x="408.49" y="123.70" width="2.72" height="2.72" fill="#000000"/><rect x="410.30" y="123.73" width="2.72" height="2.72" fill="#000000"/><rect x="412.10" y="124.57" width="2.72" height="2.72" fill="#000000"/><rect x="413.91" y="123.51" width="2.72" height="2.72" fill="#000000"/><rect x="415.72" y="123.68" width="2.72" height="2.72" fill="#000000"/><rect x="417.53" y="123.89" width="2.72" height="2.72" fill="#000000"/><rect x="419.34" y="124.90" width="2.72" height="2.72" fill="#000000"/>
<path d="M257.90,126.50 L259.71,125.90 L261.52,125.75 L263.33,122.29 L265.14,116.47 L266.94,113.49 L268.75,108.14 L270.56,104.83 L272.37,103.15 L274.18,100.54 L275.99,97.52 L277.80,94.52 L279.61,89.17 L281.42,85.65 L283.22,81.04 L285.03,74.73 L286.84,70.75 L288.65,69.94 L290.46,66.70 L292.27,64.27 L294.08,65.39 L295.89,68.31 L297.70,70.28 L299.50,73.09 L301.31,75.36 L303.12,75.28 L304.93,78.86 L306.74,78.84 L308.55,82.97 L310.36,84.37 L312.17,84.74 L313.98,85.93 L315.78,88.24 L317.59,91.05 L319.40,93.16 L321.21,91.17 L323.02,90.45 L324.83,91.69 L326.64,92.38 L328.45,93.26 L330.26,94.99 L332.06,95.93 L333.87,97.55 L335.68,98.10 L337.49,100.78 L339.30,103.09 L341.11,105.45 L342.92,107.71 L344.73,109.30 L346.54,111.82 L348.34,112.70 L350.15,112.73 L351.96,115.44 L353.77,115.25 L355.58,115.13 L357.39,115.54 L359.20,116.04 L361.01,116.74 L362.82,116.58 L364.62,117.09 L366.43,117.79 L368.24,116.76 L370.05,118.00 L371.86,118.69 L373.67,118.82 L375.48,119.32 L377.29,119.81 L379.10,121.55 L380.90,121.09 L382.71,120.83 L384.52,122.10 L386.33,121.98 L388.14,121.88 L389.95,122.25 L391.76,122.29 L393.57,123.87 L395.38,123.59 L397.18,123.82 L398.99,123.65 L400.80,123.66 L402.61,125.30 L404.42,123.94 L406.23,125.04 L408.04,124.29 L409.85,125.22 L411.66,124.63 L413.46,124.28 L415.27,124.86 L417.08,124.79 L418.89,124.62 L420.70,124.96" fill="none" stroke="#ff7a60" stroke-width="0.7"/>
<circle cx="257.90" cy="126.50" r="1.52" fill="#ff1a1a"/><circle cx="259.71" cy="125.90" r="1.52" fill="#ff1a1a"/><circle cx="261.52" cy="125.75" r="1.52" fill="#ff1a1a"/><circle cx="263.33" cy="122.29" r="1.52" fill="#ff1a1a"/><circle cx="265.14" cy="116.47" r="1.52" fill="#ff1a1a"/><circle cx="266.94" cy="113.49" r="1.52" fill="#ff1a1a"/><circle cx="268.75" cy="108.14" r="1.52" fill="#ff1a1a"/><circle cx="270.56" cy="104.83" r="1.52" fill="#ff1a1a"/><circle cx="272.37" cy="103.15" r="1.52" fill="#ff1a1a"/><circle cx="274.18" cy="100.54" r="1.52" fill="#ff1a1a"/><circle cx="275.99" cy="97.52" r="1.52" fill="#ff1a1a"/><circle cx="277.80" cy="94.52" r="1.52" fill="#ff1a1a"/><circle cx="279.61" cy="89.17" r="1.52" fill="#ff1a1a"/><circle cx="281.42" cy="85.65" r="1.52" fill="#ff1a1a"/><circle cx="283.22" cy="81.04" r="1.52" fill="#ff1a1a"/><circle cx="285.03" cy="74.73" r="1.52" fill="#ff1a1a"/><circle cx="286.84" cy="70.75" r="1.52" fill="#ff1a1a"/><circle cx="288.65" cy="69.94" r="1.52" fill="#ff1a1a"/><circle cx="290.46" cy="66.70" r="1.52" fill="#ff1a1a"/><circle cx="292.27" cy="64.27" r="1.52" fill="#ff1a1a"/><circle cx="294.08" cy="65.39" r="1.52" fill="#ff1a1a"/><circle cx="295.89" cy="68.31" r="1.52" fill="#ff1a1a"/><circle cx="297.70" cy="70.28" r="1.52" fill="#ff1a1a"/><circle cx="299.50" cy="73.09" r="1.52" fill="#ff1a1a"/><circle cx="301.31" cy="75.36" r="1.52" fill="#ff1a1a"/><circle cx="303.12" cy="75.28" r="1.52" fill="#ff1a1a"/><circle cx="304.93" cy="78.86" r="1.52" fill="#ff1a1a"/><circle cx="306.74" cy="78.84" r="1.52" fill="#ff1a1a"/><circle cx="308.55" cy="82.97" r="1.52" fill="#ff1a1a"/><circle cx="310.36" cy="84.37" r="1.52" fill="#ff1a1a"/><circle cx="312.17" cy="84.74" r="1.52" fill="#ff1a1a"/><circle cx="313.98" cy="85.93" r="1.52" fill="#ff1a1a"/><circle cx="315.78" cy="88.24" r="1.52" fill="#ff1a1a"/><circle cx="317.59" cy="91.05" r="1.52" fill="#ff1a1a"/><circle cx="319.40" cy="93.16" r="1.52" fill="#ff1a1a"/><circle cx="321.21" cy="91.17" r="1.52" fill="#ff1a1a"/><circle cx="323.02" cy="90.45" r="1.52" fill="#ff1a1a"/><circle cx="324.83" cy="91.69" r="1.52" fill="#ff1a1a"/><circle cx="326.64" cy="92.38" r="1.52" fill="#ff1a1a"/><circle cx="328.45" cy="93.26" r="1.52" fill="#ff1a1a"/><circle cx="330.26" cy="94.99" r="1.52" fill="#ff1a1a"/><circle cx="332.06" cy="95.93" r="1.52" fill="#ff1a1a"/><circle cx="333.87" cy="97.55" r="1.52" fill="#ff1a1a"/><circle cx="335.68" cy="98.10" r="1.52" fill="#ff1a1a"/><circle cx="337.49" cy="100.78" r="1.52" fill="#ff1a1a"/><circle cx="339.30" cy="103.09" r="1.52" fill="#ff1a1a"/><circle cx="341.11" cy="105.45" r="1.52" fill="#ff1a1a"/><circle cx="342.92" cy="107.71" r="1.52" fill="#ff1a1a"/><circle cx="344.73" cy="109.30" r="1.52" fill="#ff1a1a"/><circle cx="346.54" cy="111.82" r="1.52" fill="#ff1a1a"/><circle cx="348.34" cy="112.70" r="1.52" fill="#ff1a1a"/><circle cx="350.15" cy="112.73" r="1.52" fill="#ff1a1a"/><circle cx="351.96" cy="115.44" r="1.52" fill="#ff1a1a"/><circle cx="353.77" cy="115.25" r="1.52" fill="#ff1a1a"/><circle cx="355.58" cy="115.13" r="1.52" fill="#ff1a1a"/><circle cx="357.39" cy="115.54" r="1.52" fill="#ff1a1a"/><circle cx="359.20" cy="116.04" r="1.52" fill="#ff1a1a"/><circle cx="361.01" cy="116.74" r="1.52" fill="#ff1a1a"/><circle cx="362.82" cy="116.58" r="1.52" fill="#ff1a1a"/><circle cx="364.62" cy="117.09" r="1.52" fill="#ff1a1a"/><circle cx="366.43" cy="117.79" r="1.52" fill="#ff1a1a"/><circle cx="368.24" cy="116.76" r="1.52" fill="#ff1a1a"/><circle cx="370.05" cy="118.00" r="1.52" fill="#ff1a1a"/><circle cx="371.86" cy="118.69" r="1.52" fill="#ff1a1a"/><circle cx="373.67" cy="118.82" r="1.52" fill="#ff1a1a"/><circle cx="375.48" cy="119.32" r="1.52" fill="#ff1a1a"/><circle cx="377.29" cy="119.81" r="1.52" fill="#ff1a1a"/><circle cx="379.10" cy="121.55" r="1.52" fill="#ff1a1a"/><circle cx="380.90" cy="121.09" r="1.52" fill="#ff1a1a"/><circle cx="382.71" cy="120.83" r="1.52" fill="#ff1a1a"/><circle cx="384.52" cy="122.10" r="1.52" fill="#ff1a1a"/><circle cx="386.33" cy="121.98" r="1.52" fill="#ff1a1a"/><circle cx="388.14" cy="121.88" r="1.52" fill="#ff1a1a"/><circle cx="389.95" cy="122.25" r="1.52" fill="#ff1a1a"/><circle cx="391.76" cy="122.29" r="1.52" fill="#ff1a1a"/><circle cx="393.57" cy="123.87" r="1.52" fill="#ff1a1a"/><circle cx="395.38" cy="123.59" r="1.52" fill="#ff1a1a"/><circle cx="397.18" cy="123.82" r="1.52" fill="#ff1a1a"/><circle cx="398.99" cy="123.65" r="1.52" fill="#ff1a1a"/><circle cx="400.80" cy="123.66" r="1.52" fill="#ff1a1a"/><circle cx="402.61" cy="125.30" r="1.52" fill="#ff1a1a"/><circle cx="404.42" cy="123.94" r="1.52" fill="#ff1a1a"/><circle cx="406.23" cy="125.04" r="1.52" fill="#ff1a1a"/><circle cx="408.04" cy="124.29" r="1.52" fill="#ff1a1a"/><circle cx="409.85" cy="125.22" r="1.52" fill="#ff1a1a"/><circle cx="411.66" cy="124.63" r="1.52" fill="#ff1a1a"/><circle cx="413.46" cy="124.28" r="1.52" fill="#ff1a1a"/><circle cx="415.27" cy="124.86" r="1.52" fill="#ff1a1a"/><circle cx="417.08" cy="124.79" r="1.52" fill="#ff1a1a"/><circle cx="418.89" cy="124.62" r="1.52" fill="#ff1a1a"/><circle cx="420.70" cy="124.96" r="1.52" fill="#ff1a1a"/>
<path d="M257.90,125.91 L259.71,121.90 L261.52,118.59 L263.33,115.77 L265.14,110.31 L266.94,104.59 L268.75,91.72 L270.56,88.13 L272.37,85.07 L274.18,82.15 L275.99,79.44 L277.80,74.37 L279.61,70.45 L281.42,64.73 L283.22,57.41 L285.03,54.17 L286.84,49.50 L288.65,45.58 L290.46,38.06 L292.27,33.95 L294.08,29.99 L295.89,34.85 L297.70,37.15 L299.50,41.91 L301.31,43.06 L303.12,44.91 L304.93,50.02 L306.74,49.91 L308.55,54.09 L310.36,59.05 L312.17,64.42 L313.98,64.69 L315.78,70.10 L317.59,74.45 L319.40,77.12 L321.21,79.12 L323.02,77.24 L324.83,78.57 L326.64,76.03 L328.45,75.33 L330.26,75.60 L332.06,77.77 L333.87,79.05 L335.68,78.45 L337.49,80.35 L339.30,81.97 L341.11,83.25 L342.92,87.11 L344.73,90.92 L346.54,91.71 L348.34,95.64 L350.15,98.23 L351.96,103.67 L353.77,108.47 L355.58,110.22 L357.39,110.20 L359.20,111.12 L361.01,111.35 L362.82,112.93 L364.62,113.18 L366.43,113.74 L368.24,114.28 L370.05,115.90 L371.86,115.66 L373.67,117.43 L375.48,117.46 L377.29,118.18 L379.10,116.97 L380.90,117.90 L382.71,116.98 L384.52,116.72 L386.33,116.54 L388.14,117.21 L389.95,117.84 L391.76,118.48 L393.57,120.57 L395.38,121.34 L397.18,121.59 L398.99,122.42 L400.80,123.13 L402.61,123.06 L404.42,122.57 L406.23,123.82 L408.04,123.52 L409.85,122.97 L411.66,123.15 L413.46,123.55 L415.27,123.32 L417.08,123.68 L418.89,124.34 L420.70,124.64" fill="none" stroke="#80d880" stroke-width="0.7"/>
<path d="M257.90,124.15 L259.66,127.19 L256.14,127.19Z" fill="#2ab82a"/><path d="M259.71,120.14 L261.47,123.18 L257.95,123.18Z" fill="#2ab82a"/><path d="M261.52,116.83 L263.28,119.87 L259.76,119.87Z" fill="#2ab82a"/><path d="M263.33,114.01 L265.09,117.05 L261.57,117.05Z" fill="#2ab82a"/><path d="M265.14,108.55 L266.90,111.59 L263.38,111.59Z" fill="#2ab82a"/><path d="M266.94,102.83 L268.70,105.87 L265.18,105.87Z" fill="#2ab82a"/><path d="M268.75,89.96 L270.51,93.00 L266.99,93.00Z" fill="#2ab82a"/><path d="M270.56,86.37 L272.32,89.41 L268.80,89.41Z" fill="#2ab82a"/><path d="M272.37,83.31 L274.13,86.35 L270.61,86.35Z" fill="#2ab82a"/><path d="M274.18,80.39 L275.94,83.43 L272.42,83.43Z" fill="#2ab82a"/><path d="M275.99,77.68 L277.75,80.72 L274.23,80.72Z" fill="#2ab82a"/><path d="M277.80,72.61 L279.56,75.65 L276.04,75.65Z" fill="#2ab82a"/><path d="M279.61,68.69 L281.37,71.73 L277.85,71.73Z" fill="#2ab82a"/><path d="M281.42,62.97 L283.18,66.01 L279.66,66.01Z" fill="#2ab82a"/><path d="M283.22,55.65 L284.98,58.69 L281.46,58.69Z" fill="#2ab82a"/><path d="M285.03,52.41 L286.79,55.45 L283.27,55.45Z" fill="#2ab82a"/><path d="M286.84,47.74 L288.60,50.78 L285.08,50.78Z" fill="#2ab82a"/><path d="M288.65,43.82 L290.41,46.86 L286.89,46.86Z" fill="#2ab82a"/><path d="M290.46,36.30 L292.22,39.34 L288.70,39.34Z" fill="#2ab82a"/><path d="M292.27,32.19 L294.03,35.23 L290.51,35.23Z" fill="#2ab82a"/><path d="M294.08,28.23 L295.84,31.27 L292.32,31.27Z" fill="#2ab82a"/><path d="M295.89,33.09 L297.65,36.13 L294.13,36.13Z" fill="#2ab82a"/><path d="M297.70,35.39 L299.46,38.43 L295.94,38.43Z" fill="#2ab82a"/><path d="M299.50,40.15 L301.26,43.19 L297.74,43.19Z" fill="#2ab82a"/><path d="M301.31,41.30 L303.07,44.34 L299.55,44.34Z" fill="#2ab82a"/><path d="M303.12,43.15 L304.88,46.19 L301.36,46.19Z" fill="#2ab82a"/><path d="M304.93,48.26 L306.69,51.30 L303.17,51.30Z" fill="#2ab82a"/><path d="M306.74,48.15 L308.50,51.19 L304.98,51.19Z" fill="#2ab82a"/><path d="M308.55,52.33 L310.31,55.37 L306.79,55.37Z" fill="#2ab82a"/><path d="M310.36,57.29 L312.12,60.33 L308.60,60.33Z" fill="#2ab82a"/><path d="M312.17,62.66 L313.93,65.70 L310.41,65.70Z" fill="#2ab82a"/><path d="M313.98,62.93 L315.74,65.97 L312.22,65.97Z" fill="#2ab82a"/><path d="M315.78,68.34 L317.54,71.38 L314.02,71.38Z" fill="#2ab82a"/><path d="M317.59,72.69 L319.35,75.73 L315.83,75.73Z" fill="#2ab82a"/><path d="M319.40,75.36 L321.16,78.40 L317.64,78.40Z" fill="#2ab82a"/><path d="M321.21,77.36 L322.97,80.40 L319.45,80.40Z" fill="#2ab82a"/><path d="M323.02,75.48 L324.78,78.52 L321.26,78.52Z" fill="#2ab82a"/><path d="M324.83,76.81 L326.59,79.85 L323.07,79.85Z" fill="#2ab82a"/><path d="M326.64,74.27 L328.40,77.31 L324.88,77.31Z" fill="#2ab82a"/><path d="M328.45,73.57 L330.21,76.61 L326.69,76.61Z" fill="#2ab82a"/><path d="M330.26,73.84 L332.02,76.88 L328.50,76.88Z" fill="#2ab82a"/><path d="M332.06,76.01 L333.82,79.05 L330.30,79.05Z" fill="#2ab82a"/><path d="M333.87,77.29 L335.63,80.33 L332.11,80.33Z" fill="#2ab82a"/><path d="M335.68,76.69 L337.44,79.73 L333.92,79.73Z" fill="#2ab82a"/><path d="M337.49,78.59 L339.25,81.63 L335.73,81.63Z" fill="#2ab82a"/><path d="M339.30,80.21 L341.06,83.25 L337.54,83.25Z" fill="#2ab82a"/><path d="M341.11,81.49 L342.87,84.53 L339.35,84.53Z" fill="#2ab82a"/><path d="M342.92,85.35 L344.68,88.39 L341.16,88.39Z" fill="#2ab82a"/><path d="M344.73,89.16 L346.49,92.20 L342.97,92.20Z" fill="#2ab82a"/><path d="M346.54,89.95 L348.30,92.99 L344.78,92.99Z" fill="#2ab82a"/><path d="M348.34,93.88 L350.10,96.92 L346.58,96.92Z" fill="#2ab82a"/><path d="M350.15,96.47 L351.91,99.51 L348.39,99.51Z" fill="#2ab82a"/><path d="M351.96,101.91 L353.72,104.95 L350.20,104.95Z" fill="#2ab82a"/><path d="M353.77,106.71 L355.53,109.75 L352.01,109.75Z" fill="#2ab82a"/><path d="M355.58,108.46 L357.34,111.50 L353.82,111.50Z" fill="#2ab82a"/><path d="M357.39,108.44 L359.15,111.48 L355.63,111.48Z" fill="#2ab82a"/><path d="M359.20,109.36 L360.96,112.40 L357.44,112.40Z" fill="#2ab82a"/><path d="M361.01,109.59 L362.77,112.63 L359.25,112.63Z" fill="#2ab82a"/><path d="M362.82,111.17 L364.58,114.21 L361.06,114.21Z" fill="#2ab82a"/><path d="M364.62,111.42 L366.38,114.46 L362.86,114.46Z" fill="#2ab82a"/><path d="M366.43,111.98 L368.19,115.02 L364.67,115.02Z" fill="#2ab82a"/><path d="M368.24,112.52 L370.00,115.56 L366.48,115.56Z" fill="#2ab82a"/><path d="M370.05,114.14 L371.81,117.18 L368.29,117.18Z" fill="#2ab82a"/><path d="M371.86,113.90 L373.62,116.94 L370.10,116.94Z" fill="#2ab82a"/><path d="M373.67,115.67 L375.43,118.71 L371.91,118.71Z" fill="#2ab82a"/><path d="M375.48,115.70 L377.24,118.74 L373.72,118.74Z" fill="#2ab82a"/><path d="M377.29,116.42 L379.05,119.46 L375.53,119.46Z" fill="#2ab82a"/><path d="M379.10,115.21 L380.86,118.25 L377.34,118.25Z" fill="#2ab82a"/><path d="M380.90,116.14 L382.66,119.18 L379.14,119.18Z" fill="#2ab82a"/><path d="M382.71,115.22 L384.47,118.26 L380.95,118.26Z" fill="#2ab82a"/><path d="M384.52,114.96 L386.28,118.00 L382.76,118.00Z" fill="#2ab82a"/><path d="M386.33,114.78 L388.09,117.82 L384.57,117.82Z" fill="#2ab82a"/><path d="M388.14,115.45 L389.90,118.49 L386.38,118.49Z" fill="#2ab82a"/><path d="M389.95,116.08 L391.71,119.12 L388.19,119.12Z" fill="#2ab82a"/><path d="M391.76,116.72 L393.52,119.76 L390.00,119.76Z" fill="#2ab82a"/><path d="M393.57,118.81 L395.33,121.85 L391.81,121.85Z" fill="#2ab82a"/><path d="M395.38,119.58 L397.14,122.62 L393.62,122.62Z" fill="#2ab82a"/><path d="M397.18,119.83 L398.94,122.87 L395.42,122.87Z" fill="#2ab82a"/><path d="M398.99,120.66 L400.75,123.70 L397.23,123.70Z" fill="#2ab82a"/><path d="M400.80,121.37 L402.56,124.41 L399.04,124.41Z" fill="#2ab82a"/><path d="M402.61,121.30 L404.37,124.34 L400.85,124.34Z" fill="#2ab82a"/><path d="M404.42,120.81 L406.18,123.85 L402.66,123.85Z" fill="#2ab82a"/><path d="M406.23,122.06 L407.99,125.10 L404.47,125.10Z" fill="#2ab82a"/><path d="M408.04,121.76 L409.80,124.80 L406.28,124.80Z" fill="#2ab82a"/><path d="M409.85,121.21 L411.61,124.25 L408.09,124.25Z" fill="#2ab82a"/><path d="M411.66,121.39 L413.42,124.43 L409.90,124.43Z" fill="#2ab82a"/><path d="M413.46,121.79 L415.22,124.83 L411.70,124.83Z" fill="#2ab82a"/><path d="M415.27,121.56 L417.03,124.60 L413.51,124.60Z" fill="#2ab82a"/><path d="M417.08,121.92 L418.84,124.96 L415.32,124.96Z" fill="#2ab82a"/><path d="M418.89,122.58 L420.65,125.62 L417.13,125.62Z" fill="#2ab82a"/><path d="M420.70,122.88 L422.46,125.92 L418.94,125.92Z" fill="#2ab82a"/>
<path d="M257.90,125.50 L259.71,120.52 L261.52,112.02 L263.33,110.34 L265.14,104.43 L266.94,99.21 L268.75,90.55 L270.56,85.24 L272.37,81.17 L274.18,80.96 L275.99,73.65 L277.80,67.53 L279.61,62.73 L281.42,58.48 L283.22,55.52 L285.03,51.35 L286.84,40.72 L288.65,32.96 L290.46,28.59 L292.27,22.40 L294.08,18.80 L295.89,19.19 L297.70,24.91 L299.50,28.14 L301.31,33.49 L303.12,37.25 L304.93,43.00 L306.74,42.58 L308.55,45.80 L310.36,51.30 L312.17,55.41 L313.98,58.04 L315.78,67.02 L317.59,69.61 L319.40,69.75 L321.21,73.22 L323.02,71.65 L324.83,70.08 L326.64,71.47 L328.45,70.74 L330.26,70.61 L332.06,72.90 L333.87,73.34 L335.68,74.45 L337.49,75.31 L339.30,77.68 L341.11,80.84 L342.92,85.19 L344.73,88.21 L346.54,90.43 L348.34,93.84 L350.15,97.20 L351.96,99.93 L353.77,100.70 L355.58,104.42 L357.39,106.85 L359.20,110.17 L361.01,109.45 L362.82,109.85 L364.62,109.44 L366.43,111.18 L368.24,113.24 L370.05,114.39 L371.86,116.34 L373.67,115.11 L375.48,115.51 L377.29,116.09 L379.10,115.39 L380.90,115.62 L382.71,117.69 L384.52,117.97 L386.33,118.19 L388.14,119.00 L389.95,120.08 L391.76,121.14 L393.57,120.54 L395.38,121.55 L397.18,122.88 L398.99,123.24 L400.80,122.22 L402.61,122.69 L404.42,122.49 L406.23,123.02 L408.04,123.80 L409.85,123.42 L411.66,124.46 L413.46,123.95 L415.27,123.73 L417.08,123.55 L418.89,124.11 L420.70,123.94" fill="none" stroke="#6070d0" stroke-width="0.7"/>
<path d="M257.90,127.26 L259.66,124.22 L256.14,124.22Z" fill="#1830b0"/><path d="M259.71,122.28 L261.47,119.24 L257.95,119.24Z" fill="#1830b0"/><path d="M261.52,113.78 L263.28,110.74 L259.76,110.74Z" fill="#1830b0"/><path d="M263.33,112.10 L265.09,109.06 L261.57,109.06Z" fill="#1830b0"/><path d="M265.14,106.19 L266.90,103.15 L263.38,103.15Z" fill="#1830b0"/><path d="M266.94,100.97 L268.70,97.93 L265.18,97.93Z" fill="#1830b0"/><path d="M268.75,92.31 L270.51,89.27 L266.99,89.27Z" fill="#1830b0"/><path d="M270.56,87.00 L272.32,83.96 L268.80,83.96Z" fill="#1830b0"/><path d="M272.37,82.93 L274.13,79.89 L270.61,79.89Z" fill="#1830b0"/><path d="M274.18,82.72 L275.94,79.68 L272.42,79.68Z" fill="#1830b0"/><path d="M275.99,75.41 L277.75,72.37 L274.23,72.37Z" fill="#1830b0"/><path d="M277.80,69.29 L279.56,66.25 L276.04,66.25Z" fill="#1830b0"/><path d="M279.61,64.49 L281.37,61.45 L277.85,61.45Z" fill="#1830b0"/><path d="M281.42,60.24 L283.18,57.20 L279.66,57.20Z" fill="#1830b0"/><path d="M283.22,57.28 L284.98,54.24 L281.46,54.24Z" fill="#1830b0"/><path d="M285.03,53.11 L286.79,50.07 L283.27,50.07Z" fill="#1830b0"/><path d="M286.84,42.48 L288.60,39.44 L285.08,39.44Z" fill="#1830b0"/><path d="M288.65,34.72 L290.41,31.68 L286.89,31.68Z" fill="#1830b0"/><path d="M290.46,30.35 L292.22,27.31 L288.70,27.31Z" fill="#1830b0"/><path d="M292.27,24.16 L294.03,21.12 L290.51,21.12Z" fill="#1830b0"/><path d="M294.08,20.56 L295.84,17.52 L292.32,17.52Z" fill="#1830b0"/><path d="M295.89,20.95 L297.65,17.91 L294.13,17.91Z" fill="#1830b0"/><path d="M297.70,26.67 L299.46,23.63 L295.94,23.63Z" fill="#1830b0"/><path d="M299.50,29.90 L301.26,26.86 L297.74,26.86Z" fill="#1830b0"/><path d="M301.31,35.25 L303.07,32.21 L299.55,32.21Z" fill="#1830b0"/><path d="M303.12,39.01 L304.88,35.97 L301.36,35.97Z" fill="#1830b0"/><path d="M304.93,44.76 L306.69,41.72 L303.17,41.72Z" fill="#1830b0"/><path d="M306.74,44.34 L308.50,41.30 L304.98,41.30Z" fill="#1830b0"/><path d="M308.55,47.56 L310.31,44.52 L306.79,44.52Z" fill="#1830b0"/><path d="M310.36,53.06 L312.12,50.02 L308.60,50.02Z" fill="#1830b0"/><path d="M312.17,57.17 L313.93,54.13 L310.41,54.13Z" fill="#1830b0"/><path d="M313.98,59.80 L315.74,56.76 L312.22,56.76Z" fill="#1830b0"/><path d="M315.78,68.78 L317.54,65.74 L314.02,65.74Z" fill="#1830b0"/><path d="M317.59,71.37 L319.35,68.33 L315.83,68.33Z" fill="#1830b0"/><path d="M319.40,71.51 L321.16,68.47 L317.64,68.47Z" fill="#1830b0"/><path d="M321.21,74.98 L322.97,71.94 L319.45,71.94Z" fill="#1830b0"/><path d="M323.02,73.41 L324.78,70.37 L321.26,70.37Z" fill="#1830b0"/><path d="M324.83,71.84 L326.59,68.80 L323.07,68.80Z" fill="#1830b0"/><path d="M326.64,73.23 L328.40,70.19 L324.88,70.19Z" fill="#1830b0"/><path d="M328.45,72.50 L330.21,69.46 L326.69,69.46Z" fill="#1830b0"/><path d="M330.26,72.37 L332.02,69.33 L328.50,69.33Z" fill="#1830b0"/><path d="M332.06,74.66 L333.82,71.62 L330.30,71.62Z" fill="#1830b0"/><path d="M333.87,75.10 L335.63,72.06 L332.11,72.06Z" fill="#1830b0"/><path d="M335.68,76.21 L337.44,73.17 L333.92,73.17Z" fill="#1830b0"/><path d="M337.49,77.07 L339.25,74.03 L335.73,74.03Z" fill="#1830b0"/><path d="M339.30,79.44 L341.06,76.40 L337.54,76.40Z" fill="#1830b0"/><path d="M341.11,82.60 L342.87,79.56 L339.35,79.56Z" fill="#1830b0"/><path d="M342.92,86.95 L344.68,83.91 L341.16,83.91Z" fill="#1830b0"/><path d="M344.73,89.97 L346.49,86.93 L342.97,86.93Z" fill="#1830b0"/><path d="M346.54,92.19 L348.30,89.15 L344.78,89.15Z" fill="#1830b0"/><path d="M348.34,95.60 L350.10,92.56 L346.58,92.56Z" fill="#1830b0"/><path d="M350.15,98.96 L351.91,95.92 L348.39,95.92Z" fill="#1830b0"/><path d="M351.96,101.69 L353.72,98.65 L350.20,98.65Z" fill="#1830b0"/><path d="M353.77,102.46 L355.53,99.42 L352.01,99.42Z" fill="#1830b0"/><path d="M355.58,106.18 L357.34,103.14 L353.82,103.14Z" fill="#1830b0"/><path d="M357.39,108.61 L359.15,105.57 L355.63,105.57Z" fill="#1830b0"/><path d="M359.20,111.93 L360.96,108.89 L357.44,108.89Z" fill="#1830b0"/><path d="M361.01,111.21 L362.77,108.17 L359.25,108.17Z" fill="#1830b0"/><path d="M362.82,111.61 L364.58,108.57 L361.06,108.57Z" fill="#1830b0"/><path d="M364.62,111.20 L366.38,108.16 L362.86,108.16Z" fill="#1830b0"/><path d="M366.43,112.94 L368.19,109.90 L364.67,109.90Z" fill="#1830b0"/><path d="M368.24,115.00 L370.00,111.96 L366.48,111.96Z" fill="#1830b0"/><path d="M370.05,116.15 L371.81,113.11 L368.29,113.11Z" fill="#1830b0"/><path d="M371.86,118.10 L373.62,115.06 L370.10,115.06Z" fill="#1830b0"/><path d="M373.67,116.87 L375.43,113.83 L371.91,113.83Z" fill="#1830b0"/><path d="M375.48,117.27 L377.24,114.23 L373.72,114.23Z" fill="#1830b0"/><path d="M377.29,117.85 L379.05,114.81 L375.53,114.81Z" fill="#1830b0"/><path d="M379.10,117.15 L380.86,114.11 L377.34,114.11Z" fill="#1830b0"/><path d="M380.90,117.38 L382.66,114.34 L379.14,114.34Z" fill="#1830b0"/><path d="M382.71,119.45 L384.47,116.41 L380.95,116.41Z" fill="#1830b0"/><path d="M384.52,119.73 L386.28,116.69 L382.76,116.69Z" fill="#1830b0"/><path d="M386.33,119.95 L388.09,116.91 L384.57,116.91Z" fill="#1830b0"/><path d="M388.14,120.76 L389.90,117.72 L386.38,117.72Z" fill="#1830b0"/><path d="M389.95,121.84 L391.71,118.80 L388.19,118.80Z" fill="#1830b0"/><path d="M391.76,122.90 L393.52,119.86 L390.00,119.86Z" fill="#1830b0"/><path d="M393.57,122.30 L395.33,119.26 L391.81,119.26Z" fill="#1830b0"/><path d="M395.38,123.31 L397.14,120.27 L393.62,120.27Z" fill="#1830b0"/><path d="M397.18,124.64 L398.94,121.60 L395.42,121.60Z" fill="#1830b0"/><path d="M398.99,125.00 L400.75,121.96 L397.23,121.96Z" fill="#1830b0"/><path d="M400.80,123.98 L402.56,120.94 L399.04,120.94Z" fill="#1830b0"/><path d="M402.61,124.45 L404.37,121.41 L400.85,121.41Z" fill="#1830b0"/><path d="M404.42,124.25 L406.18,121.21 L402.66,121.21Z" fill="#1830b0"/><path d="M406.23,124.78 L407.99,121.74 L404.47,121.74Z" fill="#1830b0"/><path d="M408.04,125.56 L409.80,122.52 L406.28,122.52Z" fill="#1830b0"/><path d="M409.85,125.18 L411.61,122.14 L408.09,122.14Z" fill="#1830b0"/><path d="M411.66,126.22 L413.42,123.18 L409.90,123.18Z" fill="#1830b0"/><path d="M413.46,125.71 L415.22,122.67 L411.70,122.67Z" fill="#1830b0"/><path d="M415.27,125.49 L417.03,122.45 L413.51,122.45Z" fill="#1830b0"/><path d="M417.08,125.31 L418.84,122.27 L415.32,122.27Z" fill="#1830b0"/><path d="M418.89,125.87 L420.65,122.83 L417.13,122.83Z" fill="#1830b0"/><path d="M420.70,125.70 L422.46,122.66 L418.94,122.66Z" fill="#1830b0"/>
<path d="M257.90,125.08 L259.71,120.59 L261.52,118.51 L263.33,117.68 L265.14,116.71 L266.94,114.92 L268.75,113.82 L270.56,112.40 L272.37,110.08 L274.18,106.87 L275.99,103.95 L277.80,101.05 L279.61,96.53 L281.42,91.90 L283.22,88.14 L285.03,86.07 L286.84,82.73 L288.65,80.11 L290.46,78.48 L292.27,76.19 L294.08,73.09 L295.89,73.96 L297.70,76.18 L299.50,76.12 L301.31,78.67 L303.12,79.18 L304.93,82.79 L306.74,86.21 L308.55,87.18 L310.36,87.46 L312.17,91.32 L313.98,94.48 L315.78,96.34 L317.59,97.31 L319.40,98.65 L321.21,99.85 L323.02,99.90 L324.83,101.31 L326.64,102.69 L328.45,103.21 L330.26,103.46 L332.06,104.77 L333.87,105.60 L335.68,107.65 L337.49,108.02 L339.30,108.58 L341.11,110.38 L342.92,111.01 L344.73,112.59 L346.54,113.61 L348.34,115.21 L350.15,114.85 L351.96,116.32 L353.77,117.66 L355.58,118.07 L357.39,117.43 L359.20,119.21 L361.01,119.08 L362.82,119.44 L364.62,120.27 L366.43,121.19 L368.24,121.05 L370.05,121.49 L371.86,121.72 L373.67,122.41 L375.48,123.23 L377.29,123.32 L379.10,123.73 L380.90,124.02 L382.71,124.19 L384.52,124.42 L386.33,124.14 L388.14,124.90 L389.95,124.80 L391.76,124.61 L393.57,125.23 L395.38,124.87 L397.18,125.52 L398.99,125.02 L400.80,124.56 L402.61,124.58 L404.42,124.84 L406.23,124.92 L408.04,125.39 L409.85,124.14 L411.66,124.67 L413.46,124.46 L415.27,125.25 L417.08,125.01 L418.89,125.68 L420.70,124.71" fill="none" stroke="#80d8f0" stroke-width="0.7"/>
<path d="M257.90,123.16 L259.50,125.08 L257.90,127.00 L256.30,125.08Z" fill="#30c0e0"/><path d="M259.71,118.67 L261.31,120.59 L259.71,122.51 L258.11,120.59Z" fill="#30c0e0"/><path d="M261.52,116.59 L263.12,118.51 L261.52,120.43 L259.92,118.51Z" fill="#30c0e0"/><path d="M263.33,115.76 L264.93,117.68 L263.33,119.60 L261.73,117.68Z" fill="#30c0e0"/><path d="M265.14,114.79 L266.74,116.71 L265.14,118.63 L263.54,116.71Z" fill="#30c0e0"/><path d="M266.94,113.00 L268.54,114.92 L266.94,116.84 L265.34,114.92Z" fill="#30c0e0"/><path d="M268.75,111.90 L270.35,113.82 L268.75,115.74 L267.15,113.82Z" fill="#30c0e0"/><path d="M270.56,110.48 L272.16,112.40 L270.56,114.32 L268.96,112.40Z" fill="#30c0e0"/><path d="M272.37,108.16 L273.97,110.08 L272.37,112.00 L270.77,110.08Z" fill="#30c0e0"/><path d="M274.18,104.95 L275.78,106.87 L274.18,108.79 L272.58,106.87Z" fill="#30c0e0"/><path d="M275.99,102.03 L277.59,103.95 L275.99,105.87 L274.39,103.95Z" fill="#30c0e0"/><path d="M277.80,99.13 L279.40,101.05 L277.80,102.97 L276.20,101.05Z" fill="#30c0e0"/><path d="M279.61,94.61 L281.21,96.53 L279.61,98.45 L278.01,96.53Z" fill="#30c0e0"/><path d="M281.42,89.98 L283.02,91.90 L281.42,93.82 L279.82,91.90Z" fill="#30c0e0"/><path d="M283.22,86.22 L284.82,88.14 L283.22,90.06 L281.62,88.14Z" fill="#30c0e0"/><path d="M285.03,84.15 L286.63,86.07 L285.03,87.99 L283.43,86.07Z" fill="#30c0e0"/><path d="M286.84,80.81 L288.44,82.73 L286.84,84.65 L285.24,82.73Z" fill="#30c0e0"/><path d="M288.65,78.19 L290.25,80.11 L288.65,82.03 L287.05,80.11Z" fill="#30c0e0"/><path d="M290.46,76.56 L292.06,78.48 L290.46,80.40 L288.86,78.48Z" fill="#30c0e0"/><path d="M292.27,74.27 L293.87,76.19 L292.27,78.11 L290.67,76.19Z" fill="#30c0e0"/><path d="M294.08,71.17 L295.68,73.09 L294.08,75.01 L292.48,73.09Z" fill="#30c0e0"/><path d="M295.89,72.04 L297.49,73.96 L295.89,75.88 L294.29,73.96Z" fill="#30c0e0"/><path d="M297.70,74.26 L299.30,76.18 L297.70,78.10 L296.10,76.18Z" fill="#30c0e0"/><path d="M299.50,74.20 L301.10,76.12 L299.50,78.04 L297.90,76.12Z" fill="#30c0e0"/><path d="M301.31,76.75 L302.91,78.67 L301.31,80.59 L299.71,78.67Z" fill="#30c0e0"/><path d="M303.12,77.26 L304.72,79.18 L303.12,81.10 L301.52,79.18Z" fill="#30c0e0"/><path d="M304.93,80.87 L306.53,82.79 L304.93,84.71 L303.33,82.79Z" fill="#30c0e0"/><path d="M306.74,84.29 L308.34,86.21 L306.74,88.13 L305.14,86.21Z" fill="#30c0e0"/><path d="M308.55,85.26 L310.15,87.18 L308.55,89.10 L306.95,87.18Z" fill="#30c0e0"/><path d="M310.36,85.54 L311.96,87.46 L310.36,89.38 L308.76,87.46Z" fill="#30c0e0"/><path d="M312.17,89.40 L313.77,91.32 L312.17,93.24 L310.57,91.32Z" fill="#30c0e0"/><path d="M313.98,92.56 L315.58,94.48 L313.98,96.40 L312.38,94.48Z" fill="#30c0e0"/><path d="M315.78,94.42 L317.38,96.34 L315.78,98.26 L314.18,96.34Z" fill="#30c0e0"/><path d="M317.59,95.39 L319.19,97.31 L317.59,99.23 L315.99,97.31Z" fill="#30c0e0"/><path d="M319.40,96.73 L321.00,98.65 L319.40,100.57 L317.80,98.65Z" fill="#30c0e0"/><path d="M321.21,97.93 L322.81,99.85 L321.21,101.77 L319.61,99.85Z" fill="#30c0e0"/><path d="M323.02,97.98 L324.62,99.90 L323.02,101.82 L321.42,99.90Z" fill="#30c0e0"/><path d="M324.83,99.39 L326.43,101.31 L324.83,103.23 L323.23,101.31Z" fill="#30c0e0"/><path d="M326.64,100.77 L328.24,102.69 L326.64,104.61 L325.04,102.69Z" fill="#30c0e0"/><path d="M328.45,101.29 L330.05,103.21 L328.45,105.13 L326.85,103.21Z" fill="#30c0e0"/><path d="M330.26,101.54 L331.86,103.46 L330.26,105.38 L328.66,103.46Z" fill="#30c0e0"/><path d="M332.06,102.85 L333.66,104.77 L332.06,106.69 L330.46,104.77Z" fill="#30c0e0"/><path d="M333.87,103.68 L335.47,105.60 L333.87,107.52 L332.27,105.60Z" fill="#30c0e0"/><path d="M335.68,105.73 L337.28,107.65 L335.68,109.57 L334.08,107.65Z" fill="#30c0e0"/><path d="M337.49,106.10 L339.09,108.02 L337.49,109.94 L335.89,108.02Z" fill="#30c0e0"/><path d="M339.30,106.66 L340.90,108.58 L339.30,110.50 L337.70,108.58Z" fill="#30c0e0"/><path d="M341.11,108.46 L342.71,110.38 L341.11,112.30 L339.51,110.38Z" fill="#30c0e0"/><path d="M342.92,109.09 L344.52,111.01 L342.92,112.93 L341.32,111.01Z" fill="#30c0e0"/><path d="M344.73,110.67 L346.33,112.59 L344.73,114.51 L343.13,112.59Z" fill="#30c0e0"/><path d="M346.54,111.69 L348.14,113.61 L346.54,115.53 L344.94,113.61Z" fill="#30c0e0"/><path d="M348.34,113.29 L349.94,115.21 L348.34,117.13 L346.74,115.21Z" fill="#30c0e0"/><path d="M350.15,112.93 L351.75,114.85 L350.15,116.77 L348.55,114.85Z" fill="#30c0e0"/><path d="M351.96,114.40 L353.56,116.32 L351.96,118.24 L350.36,116.32Z" fill="#30c0e0"/><path d="M353.77,115.74 L355.37,117.66 L353.77,119.58 L352.17,117.66Z" fill="#30c0e0"/><path d="M355.58,116.15 L357.18,118.07 L355.58,119.99 L353.98,118.07Z" fill="#30c0e0"/><path d="M357.39,115.51 L358.99,117.43 L357.39,119.35 L355.79,117.43Z" fill="#30c0e0"/><path d="M359.20,117.29 L360.80,119.21 L359.20,121.13 L357.60,119.21Z" fill="#30c0e0"/><path d="M361.01,117.16 L362.61,119.08 L361.01,121.00 L359.41,119.08Z" fill="#30c0e0"/><path d="M362.82,117.52 L364.42,119.44 L362.82,121.36 L361.22,119.44Z" fill="#30c0e0"/><path d="M364.62,118.35 L366.22,120.27 L364.62,122.19 L363.02,120.27Z" fill="#30c0e0"/><path d="M366.43,119.27 L368.03,121.19 L366.43,123.11 L364.83,121.19Z" fill="#30c0e0"/><path d="M368.24,119.13 L369.84,121.05 L368.24,122.97 L366.64,121.05Z" fill="#30c0e0"/><path d="M370.05,119.57 L371.65,121.49 L370.05,123.41 L368.45,121.49Z" fill="#30c0e0"/><path d="M371.86,119.80 L373.46,121.72 L371.86,123.64 L370.26,121.72Z" fill="#30c0e0"/><path d="M373.67,120.49 L375.27,122.41 L373.67,124.33 L372.07,122.41Z" fill="#30c0e0"/><path d="M375.48,121.31 L377.08,123.23 L375.48,125.15 L373.88,123.23Z" fill="#30c0e0"/><path d="M377.29,121.40 L378.89,123.32 L377.29,125.24 L375.69,123.32Z" fill="#30c0e0"/><path d="M379.10,121.81 L380.70,123.73 L379.10,125.65 L377.50,123.73Z" fill="#30c0e0"/><path d="M380.90,122.10 L382.50,124.02 L380.90,125.94 L379.30,124.02Z" fill="#30c0e0"/><path d="M382.71,122.27 L384.31,124.19 L382.71,126.11 L381.11,124.19Z" fill="#30c0e0"/><path d="M384.52,122.50 L386.12,124.42 L384.52,126.34 L382.92,124.42Z" fill="#30c0e0"/><path d="M386.33,122.22 L387.93,124.14 L386.33,126.06 L384.73,124.14Z" fill="#30c0e0"/><path d="M388.14,122.98 L389.74,124.90 L388.14,126.82 L386.54,124.90Z" fill="#30c0e0"/><path d="M389.95,122.88 L391.55,124.80 L389.95,126.72 L388.35,124.80Z" fill="#30c0e0"/><path d="M391.76,122.69 L393.36,124.61 L391.76,126.53 L390.16,124.61Z" fill="#30c0e0"/><path d="M393.57,123.31 L395.17,125.23 L393.57,127.15 L391.97,125.23Z" fill="#30c0e0"/><path d="M395.38,122.95 L396.98,124.87 L395.38,126.79 L393.78,124.87Z" fill="#30c0e0"/><path d="M397.18,123.60 L398.78,125.52 L397.18,127.44 L395.58,125.52Z" fill="#30c0e0"/><path d="M398.99,123.10 L400.59,125.02 L398.99,126.94 L397.39,125.02Z" fill="#30c0e0"/><path d="M400.80,122.64 L402.40,124.56 L400.80,126.48 L399.20,124.56Z" fill="#30c0e0"/><path d="M402.61,122.66 L404.21,124.58 L402.61,126.50 L401.01,124.58Z" fill="#30c0e0"/><path d="M404.42,122.92 L406.02,124.84 L404.42,126.76 L402.82,124.84Z" fill="#30c0e0"/><path d="M406.23,123.00 L407.83,124.92 L406.23,126.84 L404.63,124.92Z" fill="#30c0e0"/><path d="M408.04,123.47 L409.64,125.39 L408.04,127.31 L406.44,125.39Z" fill="#30c0e0"/><path d="M409.85,122.22 L411.45,124.14 L409.85,126.06 L408.25,124.14Z" fill="#30c0e0"/><path d="M411.66,122.75 L413.26,124.67 L411.66,126.59 L410.06,124.67Z" fill="#30c0e0"/><path d="M413.46,122.54 L415.06,124.46 L413.46,126.38 L411.86,124.46Z" fill="#30c0e0"/><path d="M415.27,123.33 L416.87,125.25 L415.27,127.17 L413.67,125.25Z" fill="#30c0e0"/><path d="M417.08,123.09 L418.68,125.01 L417.08,126.93 L415.48,125.01Z" fill="#30c0e0"/><path d="M418.89,123.76 L420.49,125.68 L418.89,127.60 L417.29,125.68Z" fill="#30c0e0"/><path d="M420.70,122.79 L422.30,124.71 L420.70,126.63 L419.10,124.71Z" fill="#30c0e0"/>
<path d="M257.90,124.90 L259.71,120.39 L261.52,118.83 L263.33,119.41 L265.14,120.94 L266.94,120.23 L268.75,118.62 L270.56,117.07 L272.37,115.91 L274.18,113.45 L275.99,111.18 L277.80,108.55 L279.61,105.87 L281.42,102.49 L283.22,98.40 L285.03,94.48 L286.84,89.15 L288.65,86.16 L290.46,83.82 L292.27,81.00 L294.08,79.63 L295.89,79.14 L297.70,81.56 L299.50,82.37 L301.31,82.61 L303.12,83.91 L304.93,85.37 L306.74,87.22 L308.55,91.21 L310.36,92.81 L312.17,93.39 L313.98,94.72 L315.78,98.42 L317.59,100.61 L319.40,103.39 L321.21,103.13 L323.02,103.18 L324.83,104.85 L326.64,104.56 L328.45,105.26 L330.26,106.83 L332.06,106.95 L333.87,107.80 L335.68,108.23 L337.49,109.08 L339.30,110.48 L341.11,112.15 L342.92,113.13 L344.73,114.42 L346.54,115.19 L348.34,116.44 L350.15,117.86 L351.96,118.97 L353.77,119.22 L355.58,119.82 L357.39,120.27 L359.20,120.16 L361.01,120.84 L362.82,121.24 L364.62,121.75 L366.43,122.78 L368.24,122.17 L370.05,123.61 L371.86,123.30 L373.67,123.82 L375.48,123.47 L377.29,124.88 L379.10,124.26 L380.90,123.87 L382.71,123.75 L384.52,123.07 L386.33,123.87 L388.14,123.50 L389.95,123.70 L391.76,123.63 L393.57,123.80 L395.38,124.06 L397.18,123.79 L398.99,124.41 L400.80,123.50 L402.61,124.37 L404.42,123.86 L406.23,123.10 L408.04,124.02 L409.85,123.92 L411.66,123.45 L413.46,123.90 L415.27,124.22 L417.08,123.80 L418.89,123.66 L420.70,123.61" fill="none" stroke="#d070d0" stroke-width="0.7"/>
<path d="M256.14,124.90 L259.18,123.14 L259.18,126.66Z" fill="#c030c0"/><path d="M257.95,120.39 L260.99,118.63 L260.99,122.15Z" fill="#c030c0"/><path d="M259.76,118.83 L262.80,117.07 L262.80,120.59Z" fill="#c030c0"/><path d="M261.57,119.41 L264.61,117.65 L264.61,121.17Z" fill="#c030c0"/><path d="M263.38,120.94 L266.42,119.18 L266.42,122.70Z" fill="#c030c0"/><path d="M265.18,120.23 L268.22,118.47 L268.22,121.99Z" fill="#c030c0"/><path d="M266.99,118.62 L270.03,116.86 L270.03,120.38Z" fill="#c030c0"/><path d="M268.80,117.07 L271.84,115.31 L271.84,118.83Z" fill="#c030c0"/><path d="M270.61,115.91 L273.65,114.15 L273.65,117.67Z" fill="#c030c0"/><path d="M272.42,113.45 L275.46,111.69 L275.46,115.21Z" fill="#c030c0"/><path d="M274.23,111.18 L277.27,109.42 L277.27,112.94Z" fill="#c030c0"/><path d="M276.04,108.55 L279.08,106.79 L279.08,110.31Z" fill="#c030c0"/><path d="M277.85,105.87 L280.89,104.11 L280.89,107.63Z" fill="#c030c0"/><path d="M279.66,102.49 L282.70,100.73 L282.70,104.25Z" fill="#c030c0"/><path d="M281.46,98.40 L284.50,96.64 L284.50,100.16Z" fill="#c030c0"/><path d="M283.27,94.48 L286.31,92.72 L286.31,96.24Z" fill="#c030c0"/><path d="M285.08,89.15 L288.12,87.39 L288.12,90.91Z" fill="#c030c0"/><path d="M286.89,86.16 L289.93,84.40 L289.93,87.92Z" fill="#c030c0"/><path d="M288.70,83.82 L291.74,82.06 L291.74,85.58Z" fill="#c030c0"/><path d="M290.51,81.00 L293.55,79.24 L293.55,82.76Z" fill="#c030c0"/><path d="M292.32,79.63 L295.36,77.87 L295.36,81.39Z" fill="#c030c0"/><path d="M294.13,79.14 L297.17,77.38 L297.17,80.90Z" fill="#c030c0"/><path d="M295.94,81.56 L298.98,79.80 L298.98,83.32Z" fill="#c030c0"/><path d="M297.74,82.37 L300.78,80.61 L300.78,84.13Z" fill="#c030c0"/><path d="M299.55,82.61 L302.59,80.85 L302.59,84.37Z" fill="#c030c0"/><path d="M301.36,83.91 L304.40,82.15 L304.40,85.67Z" fill="#c030c0"/><path d="M303.17,85.37 L306.21,83.61 L306.21,87.13Z" fill="#c030c0"/><path d="M304.98,87.22 L308.02,85.46 L308.02,88.98Z" fill="#c030c0"/><path d="M306.79,91.21 L309.83,89.45 L309.83,92.97Z" fill="#c030c0"/><path d="M308.60,92.81 L311.64,91.05 L311.64,94.57Z" fill="#c030c0"/><path d="M310.41,93.39 L313.45,91.63 L313.45,95.15Z" fill="#c030c0"/><path d="M312.22,94.72 L315.26,92.96 L315.26,96.48Z" fill="#c030c0"/><path d="M314.02,98.42 L317.06,96.66 L317.06,100.18Z" fill="#c030c0"/><path d="M315.83,100.61 L318.87,98.85 L318.87,102.37Z" fill="#c030c0"/><path d="M317.64,103.39 L320.68,101.63 L320.68,105.15Z" fill="#c030c0"/><path d="M319.45,103.13 L322.49,101.37 L322.49,104.89Z" fill="#c030c0"/><path d="M321.26,103.18 L324.30,101.42 L324.30,104.94Z" fill="#c030c0"/><path d="M323.07,104.85 L326.11,103.09 L326.11,106.61Z" fill="#c030c0"/><path d="M324.88,104.56 L327.92,102.80 L327.92,106.32Z" fill="#c030c0"/><path d="M326.69,105.26 L329.73,103.50 L329.73,107.02Z" fill="#c030c0"/><path d="M328.50,106.83 L331.54,105.07 L331.54,108.59Z" fill="#c030c0"/><path d="M330.30,106.95 L333.34,105.19 L333.34,108.71Z" fill="#c030c0"/><path d="M332.11,107.80 L335.15,106.04 L335.15,109.56Z" fill="#c030c0"/><path d="M333.92,108.23 L336.96,106.47 L336.96,109.99Z" fill="#c030c0"/><path d="M335.73,109.08 L338.77,107.32 L338.77,110.84Z" fill="#c030c0"/><path d="M337.54,110.48 L340.58,108.72 L340.58,112.24Z" fill="#c030c0"/><path d="M339.35,112.15 L342.39,110.39 L342.39,113.91Z" fill="#c030c0"/><path d="M341.16,113.13 L344.20,111.37 L344.20,114.89Z" fill="#c030c0"/><path d="M342.97,114.42 L346.01,112.66 L346.01,116.18Z" fill="#c030c0"/><path d="M344.78,115.19 L347.82,113.43 L347.82,116.95Z" fill="#c030c0"/><path d="M346.58,116.44 L349.62,114.68 L349.62,118.20Z" fill="#c030c0"/><path d="M348.39,117.86 L351.43,116.10 L351.43,119.62Z" fill="#c030c0"/><path d="M350.20,118.97 L353.24,117.21 L353.24,120.73Z" fill="#c030c0"/><path d="M352.01,119.22 L355.05,117.46 L355.05,120.98Z" fill="#c030c0"/><path d="M353.82,119.82 L356.86,118.06 L356.86,121.58Z" fill="#c030c0"/><path d="M355.63,120.27 L358.67,118.51 L358.67,122.03Z" fill="#c030c0"/><path d="M357.44,120.16 L360.48,118.40 L360.48,121.92Z" fill="#c030c0"/><path d="M359.25,120.84 L362.29,119.08 L362.29,122.60Z" fill="#c030c0"/><path d="M361.06,121.24 L364.10,119.48 L364.10,123.00Z" fill="#c030c0"/><path d="M362.86,121.75 L365.90,119.99 L365.90,123.51Z" fill="#c030c0"/><path d="M364.67,122.78 L367.71,121.02 L367.71,124.54Z" fill="#c030c0"/><path d="M366.48,122.17 L369.52,120.41 L369.52,123.93Z" fill="#c030c0"/><path d="M368.29,123.61 L371.33,121.85 L371.33,125.37Z" fill="#c030c0"/><path d="M370.10,123.30 L373.14,121.54 L373.14,125.06Z" fill="#c030c0"/><path d="M371.91,123.82 L374.95,122.06 L374.95,125.58Z" fill="#c030c0"/><path d="M373.72,123.47 L376.76,121.71 L376.76,125.23Z" fill="#c030c0"/><path d="M375.53,124.88 L378.57,123.12 L378.57,126.64Z" fill="#c030c0"/><path d="M377.34,124.26 L380.38,122.50 L380.38,126.02Z" fill="#c030c0"/><path d="M379.14,123.87 L382.18,122.11 L382.18,125.63Z" fill="#c030c0"/><path d="M380.95,123.75 L383.99,121.99 L383.99,125.51Z" fill="#c030c0"/><path d="M382.76,123.07 L385.80,121.31 L385.80,124.83Z" fill="#c030c0"/><path d="M384.57,123.87 L387.61,122.11 L387.61,125.63Z" fill="#c030c0"/><path d="M386.38,123.50 L389.42,121.74 L389.42,125.26Z" fill="#c030c0"/><path d="M388.19,123.70 L391.23,121.94 L391.23,125.46Z" fill="#c030c0"/><path d="M390.00,123.63 L393.04,121.87 L393.04,125.39Z" fill="#c030c0"/><path d="M391.81,123.80 L394.85,122.04 L394.85,125.56Z" fill="#c030c0"/><path d="M393.62,124.06 L396.66,122.30 L396.66,125.82Z" fill="#c030c0"/><path d="M395.42,123.79 L398.46,122.03 L398.46,125.55Z" fill="#c030c0"/><path d="M397.23,124.41 L400.27,122.65 L400.27,126.17Z" fill="#c030c0"/><path d="M399.04,123.50 L402.08,121.74 L402.08,125.26Z" fill="#c030c0"/><path d="M400.85,124.37 L403.89,122.61 L403.89,126.13Z" fill="#c030c0"/><path d="M402.66,123.86 L405.70,122.10 L405.70,125.62Z" fill="#c030c0"/><path d="M404.47,123.10 L407.51,121.34 L407.51,124.86Z" fill="#c030c0"/><path d="M406.28,124.02 L409.32,122.26 L409.32,125.78Z" fill="#c030c0"/><path d="M408.09,123.92 L411.13,122.16 L411.13,125.68Z" fill="#c030c0"/><path d="M409.90,123.45 L412.94,121.69 L412.94,125.21Z" fill="#c030c0"/><path d="M411.70,123.90 L414.74,122.14 L414.74,125.66Z" fill="#c030c0"/><path d="M413.51,124.22 L416.55,122.46 L416.55,125.98Z" fill="#c030c0"/><path d="M415.32,123.80 L418.36,122.04 L418.36,125.56Z" fill="#c030c0"/><path d="M417.13,123.66 L420.17,121.90 L420.17,125.42Z" fill="#c030c0"/><path d="M418.94,123.61 L421.98,121.85 L421.98,125.37Z" fill="#c030c0"/>
</g>
<g fill="none" stroke="#1a1a1a" stroke-width="1.25" stroke-dasharray="2.3 1.9">
<ellipse cx="302.6" cy="109.8" rx="7.3" ry="4.4"/>
<line x1="312.5" y1="109.8" x2="326" y2="109.8"/>
<ellipse cx="373.6" cy="105.5" rx="6.9" ry="4.9"/>
<line x1="382" y1="104.4" x2="392" y2="104.4"/>
</g>
<path d="M395.8,104.4 L391.6,102.5 L391.6,106.3Z" fill="#1a1a1a"/>
<path d="M310.0,109.8 L313.2,107.9 M310.0,109.8 L313.2,111.7" stroke="#1a1a1a" stroke-width="1.1" fill="none"/>
<line x1="291" y1="7.4" x2="305" y2="7.4" stroke="#7a2a96" stroke-width="1.8" stroke-dasharray="3.5 2.2"/>
<line x1="291" y1="15.0" x2="305" y2="15.0" stroke="#8c8a1e" stroke-width="1.5" stroke-dasharray="1.5 1.5"/>
<text x="306.50" y="9.30" font-size="5.35" font-weight="bold" text-anchor="start" fill="#111" class="k">Abs. of CuPc</text>
<text x="306.50" y="16.90" font-size="5.35" font-weight="bold" text-anchor="start" fill="#111" class="k">Abs. of &#945;-Si:H</text>
<line x1="349.2" y1="8.40" x2="362.7" y2="8.40" stroke="#444444" stroke-width="0.8"/>
<rect x="354.79" y="7.29" width="2.21" height="2.21" fill="#000000"/>
<text x="364.30" y="10.30" font-size="5.38" font-weight="bold" text-anchor="start" fill="#111" class="n">EQE of 30 nm CuPc</text>
<line x1="349.2" y1="16.35" x2="362.7" y2="16.35" stroke="#ff9a80" stroke-width="0.8"/>
<circle cx="355.90" cy="16.35" r="1.23" fill="#ff1a1a"/>
<text x="364.30" y="18.25" font-size="5.38" font-weight="bold" text-anchor="start" fill="#111" class="n">EQE of 50 nm CuPc</text>
<line x1="349.2" y1="24.30" x2="362.7" y2="24.30" stroke="#90dd90" stroke-width="0.8"/>
<path d="M355.90,22.87 L357.33,25.34 L354.47,25.34Z" fill="#2ab82a"/>
<text x="364.30" y="26.20" font-size="5.38" font-weight="bold" text-anchor="start" fill="#111" class="n">EQE of 70 nm CuPc</text>
<line x1="349.2" y1="32.25" x2="362.7" y2="32.25" stroke="#8090e0" stroke-width="0.8"/>
<path d="M355.90,33.68 L357.33,31.21 L354.47,31.21Z" fill="#1830b0"/>
<text x="364.30" y="34.15" font-size="5.38" font-weight="bold" text-anchor="start" fill="#111" class="n">EQE of 90 nm CuPc</text>
<line x1="349.2" y1="40.20" x2="362.7" y2="40.20" stroke="#90e0f0" stroke-width="0.8"/>
<path d="M355.90,38.64 L357.20,40.20 L355.90,41.76 L354.60,40.20Z" fill="#30c0e0"/>
<text x="364.30" y="42.10" font-size="5.38" font-weight="bold" text-anchor="start" fill="#111" class="n">EQE of 110 nm CuPc</text>
<line x1="349.2" y1="48.15" x2="362.7" y2="48.15" stroke="#e090e0" stroke-width="0.8"/>
<path d="M354.47,48.15 L356.94,46.72 L356.94,49.58Z" fill="#c030c0"/>
<text x="364.30" y="50.05" font-size="5.38" font-weight="bold" text-anchor="start" fill="#111" class="n">EQE of 130 nm CuPc</text>
<line x1="156.8" y1="198.4" x2="328.2" y2="198.4" stroke="#2a2a2a" stroke-width="1.1"/>
<line x1="156.8" y1="325.0" x2="328.2" y2="325.0" stroke="#2a2a2a" stroke-width="1.1"/>
<line x1="156.8" y1="197.85" x2="156.8" y2="325.55" stroke="#2a2a2a" stroke-width="1.1"/>
<line x1="328.2" y1="197.85" x2="328.2" y2="325.55" stroke="#2a2a2a" stroke-width="1.1"/>
<line x1="156.80" y1="325.0" x2="156.80" y2="322.40" stroke="#222" stroke-width="0.8"/>
<line x1="156.80" y1="198.4" x2="156.80" y2="201.00" stroke="#222" stroke-width="0.8"/>
<line x1="185.37" y1="325.0" x2="185.37" y2="322.40" stroke="#222" stroke-width="0.8"/>
<line x1="185.37" y1="198.4" x2="185.37" y2="201.00" stroke="#222" stroke-width="0.8"/>
<line x1="213.93" y1="325.0" x2="213.93" y2="322.40" stroke="#222" stroke-width="0.8"/>
<line x1="213.93" y1="198.4" x2="213.93" y2="201.00" stroke="#222" stroke-width="0.8"/>
<line x1="242.50" y1="325.0" x2="242.50" y2="322.40" stroke="#222" stroke-width="0.8"/>
<line x1="242.50" y1="198.4" x2="242.50" y2="201.00" stroke="#222" stroke-width="0.8"/>
<line x1="271.07" y1="325.0" x2="271.07" y2="322.40" stroke="#222" stroke-width="0.8"/>
<line x1="271.07" y1="198.4" x2="271.07" y2="201.00" stroke="#222" stroke-width="0.8"/>
<line x1="299.63" y1="325.0" x2="299.63" y2="322.40" stroke="#222" stroke-width="0.8"/>
<line x1="299.63" y1="198.4" x2="299.63" y2="201.00" stroke="#222" stroke-width="0.8"/>
<line x1="328.20" y1="325.0" x2="328.20" y2="322.40" stroke="#222" stroke-width="0.8"/>
<line x1="328.20" y1="198.4" x2="328.20" y2="201.00" stroke="#222" stroke-width="0.8"/>
<line x1="171.08" y1="325.0" x2="171.08" y2="323.50" stroke="#222" stroke-width="0.8"/>
<line x1="171.08" y1="198.4" x2="171.08" y2="199.90" stroke="#222" stroke-width="0.8"/>
<line x1="199.65" y1="325.0" x2="199.65" y2="323.50" stroke="#222" stroke-width="0.8"/>
<line x1="199.65" y1="198.4" x2="199.65" y2="199.90" stroke="#222" stroke-width="0.8"/>
<line x1="228.22" y1="325.0" x2="228.22" y2="323.50" stroke="#222" stroke-width="0.8"/>
<line x1="228.22" y1="198.4" x2="228.22" y2="199.90" stroke="#222" stroke-width="0.8"/>
<line x1="256.78" y1="325.0" x2="256.78" y2="323.50" stroke="#222" stroke-width="0.8"/>
<line x1="256.78" y1="198.4" x2="256.78" y2="199.90" stroke="#222" stroke-width="0.8"/>
<line x1="285.35" y1="325.0" x2="285.35" y2="323.50" stroke="#222" stroke-width="0.8"/>
<line x1="285.35" y1="198.4" x2="285.35" y2="199.90" stroke="#222" stroke-width="0.8"/>
<line x1="313.92" y1="325.0" x2="313.92" y2="323.50" stroke="#222" stroke-width="0.8"/>
<line x1="313.92" y1="198.4" x2="313.92" y2="199.90" stroke="#222" stroke-width="0.8"/>
<line x1="156.8" y1="325.00" x2="159.40" y2="325.00" stroke="#222" stroke-width="0.8"/>
<line x1="328.2" y1="325.00" x2="325.60" y2="325.00" stroke="#222" stroke-width="0.8"/>
<line x1="156.8" y1="305.52" x2="159.40" y2="305.52" stroke="#222" stroke-width="0.8"/>
<line x1="328.2" y1="305.52" x2="325.60" y2="305.52" stroke="#222" stroke-width="0.8"/>
<line x1="156.8" y1="286.04" x2="159.40" y2="286.04" stroke="#222" stroke-width="0.8"/>
<line x1="328.2" y1="286.04" x2="325.60" y2="286.04" stroke="#222" stroke-width="0.8"/>
<line x1="156.8" y1="266.56" x2="159.40" y2="266.56" stroke="#222" stroke-width="0.8"/>
<line x1="328.2" y1="266.56" x2="325.60" y2="266.56" stroke="#222" stroke-width="0.8"/>
<line x1="156.8" y1="247.08" x2="159.40" y2="247.08" stroke="#222" stroke-width="0.8"/>
<line x1="328.2" y1="247.08" x2="325.60" y2="247.08" stroke="#222" stroke-width="0.8"/>
<line x1="156.8" y1="227.60" x2="159.40" y2="227.60" stroke="#222" stroke-width="0.8"/>
<line x1="328.2" y1="227.60" x2="325.60" y2="227.60" stroke="#222" stroke-width="0.8"/>
<line x1="156.8" y1="208.12" x2="159.40" y2="208.12" stroke="#222" stroke-width="0.8"/>
<line x1="328.2" y1="208.12" x2="325.60" y2="208.12" stroke="#222" stroke-width="0.8"/>
<line x1="156.8" y1="315.26" x2="158.30" y2="315.26" stroke="#222" stroke-width="0.8"/>
<line x1="328.2" y1="315.26" x2="326.70" y2="315.26" stroke="#222" stroke-width="0.8"/>
<line x1="156.8" y1="295.78" x2="158.30" y2="295.78" stroke="#222" stroke-width="0.8"/>
<line x1="328.2" y1="295.78" x2="326.70" y2="295.78" stroke="#222" stroke-width="0.8"/>
<line x1="156.8" y1="276.30" x2="158.30" y2="276.30" stroke="#222" stroke-width="0.8"/>
<line x1="328.2" y1="276.30" x2="326.70" y2="276.30" stroke="#222" stroke-width="0.8"/>
<line x1="156.8" y1="256.82" x2="158.30" y2="256.82" stroke="#222" stroke-width="0.8"/>
<line x1="328.2" y1="256.82" x2="326.70" y2="256.82" stroke="#222" stroke-width="0.8"/>
<line x1="156.8" y1="237.34" x2="158.30" y2="237.34" stroke="#222" stroke-width="0.8"/>
<line x1="328.2" y1="237.34" x2="326.70" y2="237.34" stroke="#222" stroke-width="0.8"/>
<line x1="156.8" y1="217.86" x2="158.30" y2="217.86" stroke="#222" stroke-width="0.8"/>
<line x1="328.2" y1="217.86" x2="326.70" y2="217.86" stroke="#222" stroke-width="0.8"/>
<line x1="156.8" y1="198.38" x2="158.30" y2="198.38" stroke="#222" stroke-width="0.8"/>
<line x1="328.2" y1="198.38" x2="326.70" y2="198.38" stroke="#222" stroke-width="0.8"/>
<text x="156.80" y="332.70" font-size="6.2" font-weight="bold" text-anchor="middle" fill="#111" class="k">20</text>
<text x="185.37" y="332.70" font-size="6.2" font-weight="bold" text-anchor="middle" fill="#111" class="k">40</text>
<text x="213.93" y="332.70" font-size="6.2" font-weight="bold" text-anchor="middle" fill="#111" class="k">60</text>
<text x="242.50" y="332.70" font-size="6.2" font-weight="bold" text-anchor="middle" fill="#111" class="k">80</text>
<text x="271.07" y="332.70" font-size="6.2" font-weight="bold" text-anchor="middle" fill="#111" class="k">100</text>
<text x="299.63" y="332.70" font-size="6.2" font-weight="bold" text-anchor="middle" fill="#111" class="k">120</text>
<text x="328.20" y="332.70" font-size="6.2" font-weight="bold" text-anchor="middle" fill="#111" class="k">140</text>
<text x="154.10" y="327.20" font-size="6.2" font-weight="bold" text-anchor="end" fill="#111" class="k">3</text>
<text x="154.10" y="307.72" font-size="6.2" font-weight="bold" text-anchor="end" fill="#111" class="k">4</text>
<text x="154.10" y="288.24" font-size="6.2" font-weight="bold" text-anchor="end" fill="#111" class="k">5</text>
<text x="154.10" y="268.76" font-size="6.2" font-weight="bold" text-anchor="end" fill="#111" class="k">6</text>
<text x="154.10" y="249.28" font-size="6.2" font-weight="bold" text-anchor="end" fill="#111" class="k">7</text>
<text x="154.10" y="229.80" font-size="6.2" font-weight="bold" text-anchor="end" fill="#111" class="k">8</text>
<text x="154.10" y="210.32" font-size="6.2" font-weight="bold" text-anchor="end" fill="#111" class="k">9</text>
<text x="242.00" y="344.10" font-size="9.4" font-weight="bold" text-anchor="middle" fill="#111" class="k">CuPc thickness (nm)</text>
<text x="139.70" y="261.20" font-size="9.45" font-weight="bold" text-anchor="middle" fill="#111" transform="rotate(-90 139.70 261.20)" class="k">Peak EQE (%)</text>
<text x="176.40" y="217.70" font-size="12.6" font-weight="bold" text-anchor="middle" fill="#111" class="k">(c)</text>
<path d="M171.08,317.21 L199.65,286.62 L228.22,232.66 L256.78,214.94 L285.35,298.90 L313.92,309.22" fill="none" stroke="#333" stroke-width="0.6"/>
<rect x="168.78" y="314.91" width="4.6" height="4.6" fill="#000"/>
<rect x="197.35" y="284.32" width="4.6" height="4.6" fill="#000"/>
<rect x="225.92" y="230.36" width="4.6" height="4.6" fill="#000"/>
<rect x="254.48" y="212.64" width="4.6" height="4.6" fill="#000"/>
<rect x="283.05" y="296.60" width="4.6" height="4.6" fill="#000"/>
<rect x="311.62" y="306.92" width="4.6" height="4.6" fill="#000"/>
</svg>
</body></html>
